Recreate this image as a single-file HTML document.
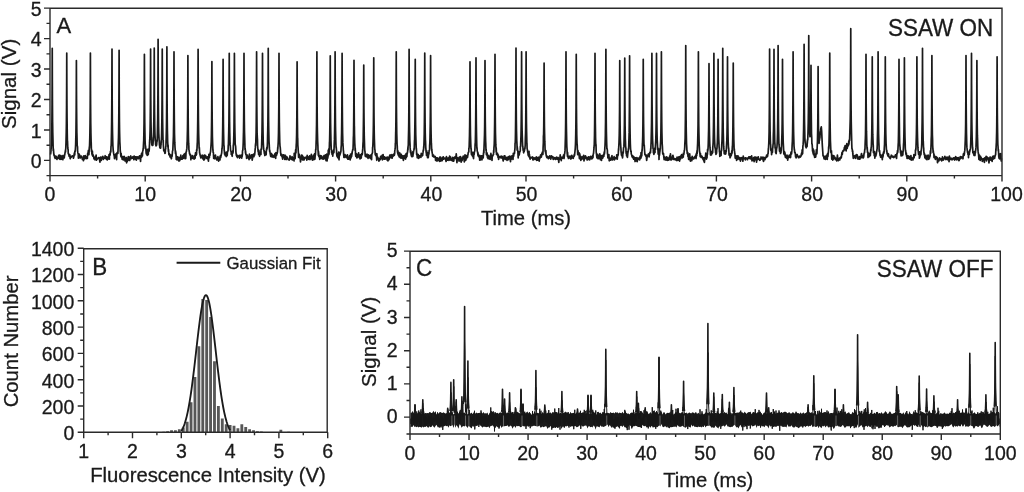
<!DOCTYPE html><html><head><meta charset="utf-8"><style>html,body{margin:0;padding:0;background:#fff;overflow:hidden}svg{display:block;filter:grayscale(100%)}text{font-family:"Liberation Sans",sans-serif;fill:#1a1a1a;stroke:#1a1a1a;stroke-width:0.3px}</style></head><body>
<svg width="1024" height="492" viewBox="0 0 1024 492">
<rect width="1024" height="492" fill="#fff"/>
<polyline fill="none" stroke="#1a1a1a" stroke-width="1.7" stroke-linejoin="round" points="50.6,154.49 50.75,152.94 50.95,151.28 51.05,149.07 51.25,147.84 51.3,146.44 51.5,143.72 51.65,137.82 51.75,132.24 51.9,121.9 52,110.1 52.05,103.36 52.15,82.05 52.25,48.35 52.35,81.7 52.45,103 52.6,121.89 52.7,127.43 52.75,131.95 53,141.35 53.05,143.9 53.25,150.61 53.4,148.81 53.45,149.65 53.75,153.32 54.1,155.51 54.25,155.09 54.45,155.61 54.75,157.54 54.8,157.36 55.15,158.48 55.25,157.08 55.5,157.47 55.85,156.14 56.2,158.22 56.55,156.73 56.9,159.48 57.25,158.42 57.6,158.32 57.95,157.37 58.3,158.08 58.65,155.37 59,156.63 59.35,158.79 59.7,155.17 60.05,159.46 60.4,155.67 60.75,159.26 61.1,156.88 61.45,159.17 61.8,158.16 62.15,155.64 62.5,159.55 62.85,159.67 63.2,157.28 63.55,156.71 63.75,156.69 63.9,155.34 64.25,157.82 64.6,154.71 64.75,154.99 64.95,153.23 65.25,151.96 65.3,150.74 65.55,152.02 65.65,149 65.75,149 66,142.62 66.25,132.3 66.35,126.37 66.4,122.2 66.55,104.95 66.65,85.06 66.7,71.1 66.75,53.1 66.85,84.94 66.95,105.71 67.05,117.34 67.1,121.8 67.25,133.19 67.4,140.9 67.5,140.87 67.75,147.41 67.95,149.38 68.1,149.2 68.25,153.65 68.45,153.67 68.75,154.91 68.8,153.88 69.15,156.4 69.25,155.14 69.5,156.05 69.75,154.92 69.85,154.84 70.2,158.77 70.55,156.26 70.9,157.51 71.25,157.09 71.6,156.51 71.95,156.39 72.3,155.79 72.65,156.5 73,156.55 73.35,156.55 73.4,158.18 73.7,157.15 73.9,156.44 74.05,154.83 74.4,152.87 74.75,154.9 74.9,150.99 75.1,151.23 75.2,151.25 75.4,149.15 75.45,148.43 75.65,144.41 75.8,138.29 75.9,135.83 76.05,123.98 76.15,115.6 76.2,108.8 76.3,90.49 76.4,60.6 76.5,90.66 76.6,108.03 76.75,123.7 76.85,132.5 76.9,133.55 77.15,143.41 77.2,145.59 77.4,146.17 77.55,147.34 77.6,150.95 77.9,152.94 78.25,154.12 78.4,158.1 78.6,154.22 78.9,153.85 78.95,155.86 79.3,155.15 79.4,154.27 79.65,157.6 80,157.02 80.35,157.87 80.7,155.99 81.05,156.57 81.4,156.16 81.75,156.39 82.1,158.01 82.45,159.46 82.8,158.31 83.15,158.31 83.5,160.76 83.85,155.81 84.2,159.11 84.55,157.67 84.9,157.75 85.25,155.62 85.6,157 85.95,158.66 86.3,157.35 86.65,157.44 87,156.7 87.35,158.51 87.4,156.76 87.7,153.27 87.9,155.15 88.05,153.04 88.4,150.37 88.75,152.87 88.9,154.6 89.1,151.34 89.2,148.77 89.4,146.57 89.45,148.32 89.65,142.75 89.8,137.62 89.9,132.86 90.05,122.62 90.15,112.47 90.2,105.2 90.3,85.21 90.4,53.1 90.5,85.28 90.6,104.6 90.75,123.37 90.85,128.89 90.9,132.76 91.15,142.53 91.2,142.29 91.4,149.86 91.55,151.61 91.6,149.65 91.9,153.76 92.25,154.93 92.4,151.18 92.6,155.8 92.9,155.95 92.95,156.24 93.3,155.03 93.4,156.3 93.65,156.65 94,158.87 94.35,157.81 94.7,157.45 95.05,159.78 95.4,156.84 95.75,157.14 96.1,155.12 96.45,160.07 96.8,159.22 97.15,159.18 97.5,158.84 97.85,158.04 98.2,158.2 98.55,157.53 98.9,157.6 99.25,157.97 99.6,160.08 99.95,162.18 100.3,157.82 100.65,157.09 101,157.03 101.35,160.3 101.7,158.73 102.05,158.11 102.4,157.52 102.75,156.43 103.1,157.95 103.45,159.32 103.8,157.49 104.15,157.73 104.5,157.73 104.85,158.21 105.2,155.73 105.55,157.68 105.9,156.75 106.25,159.24 106.6,156.8 106.95,158.69 107.3,159.99 107.65,157.22 108,159.13 108.35,157.65 108.7,157.14 109,155.43 109.05,154.57 109.4,159.26 109.5,155.82 109.75,155.4 110,153.52 110.1,155.12 110.45,151.29 110.5,151.18 110.8,151.85 111,146.37 111.15,145.93 111.25,143.84 111.5,132.33 111.65,121.76 111.8,103.93 111.85,93.81 111.9,82.27 112,49.1 112.1,82.44 112.2,103.7 112.35,122.05 112.5,131.2 112.55,133.84 112.75,141.53 112.9,146.02 113,147.21 113.2,150.39 113.25,151.02 113.5,152.22 113.6,153.17 113.95,155.01 114,154.75 114.3,156.34 114.5,158.67 114.65,157.03 115,156.6 115.35,154.25 115.7,157.29 116.05,153.81 116.1,154.56 116.4,157.61 116.6,159.68 116.75,155.69 117.1,152.69 117.45,153.28 117.6,152.03 117.8,152.33 117.9,153.49 118.1,148.18 118.15,146.11 118.35,141.29 118.5,137.43 118.6,132.53 118.75,121.22 118.85,111.22 118.9,103.3 119,83.73 119.1,50.35 119.2,83.76 119.3,103.69 119.45,122.55 119.55,129.73 119.6,132.5 119.85,142.47 119.9,142.69 120.1,146.42 120.25,151.37 120.3,150.65 120.6,153.77 120.95,156.69 121.1,153.35 121.3,155.28 121.6,157.32 121.65,157.72 122,157.13 122.1,159.29 122.35,158.37 122.7,156.6 123.05,157.23 123.4,159.93 123.75,159.59 124.1,156.27 124.45,157.73 124.8,159.97 125.15,161.06 125.5,158.57 125.85,158.7 126.2,157.49 126.55,162.79 126.9,161.22 127.25,161.39 127.6,158.13 127.95,159.28 128.3,156.6 128.65,158.44 129,160.39 129.35,157.12 129.7,160.46 130.05,159.36 130.4,157.32 130.75,155.96 131.1,158.1 131.45,158.65 131.8,157.91 132.15,157.45 132.5,158.16 132.85,157.07 133.2,156.65 133.55,158.4 133.9,159.7 134.25,156.16 134.6,158.33 134.95,157.33 135.3,156.8 135.65,159.4 136,157.35 136.35,160.24 136.7,156.91 137.05,158.56 137.4,157.63 137.75,156.82 138.1,158.71 138.45,157.57 138.8,158.59 139.15,157.56 139.5,155.95 139.85,157.25 140.2,157.33 140.55,161.49 140.9,155.51 141.25,156.45 141.4,153.86 141.6,157.04 141.9,154.06 141.95,152.92 142.3,154.62 142.4,155.98 142.65,151.31 142.9,150.63 143,150.43 143.2,148.17 143.35,148.33 143.4,146.1 143.65,141.17 143.7,141.18 143.9,131.79 144.05,122.67 144.2,104.59 144.3,85.38 144.4,54.35 144.5,86.11 144.6,104.75 144.75,122.26 144.9,132.07 145.1,142.22 145.15,141.46 145.4,148.73 145.45,145.71 145.6,146.67 145.8,148.95 145.9,149.09 146.15,153.09 146.4,153.91 146.5,151.57 146.85,151.37 146.9,152.9 147.2,155.51 147.4,149.39 147.55,154.16 147.6,151.81 147.9,154.56 148.1,151.21 148.25,154.64 148.6,149.43 148.95,148.74 149.1,151.13 149.3,148.75 149.4,146.12 149.6,142.9 149.65,140.81 149.85,138.25 150,133.59 150.1,130.26 150.25,118.46 150.35,107.28 150.4,100.81 150.5,81.07 150.6,49.1 150.7,81.7 150.8,100.38 150.95,117.26 151.05,125.02 151.1,127.33 151.25,133.41 151.35,139.19 151.4,137.11 151.6,142.59 151.75,143.38 151.8,144.28 152.1,145.34 152.25,144.92 152.45,144.65 152.6,145.42 152.75,144.49 152.8,145.34 153.05,143.29 153.1,141.04 153.15,142.36 153.25,139.29 153.5,135.34 153.6,132.71 153.75,124.71 153.85,120.5 153.9,116.59 154.05,99.04 154.15,79.53 154.2,65.8 154.25,48.1 154.35,79.52 154.45,98.74 154.55,111.66 154.6,115.41 154.75,126.56 154.9,132.81 155,135.47 155.1,137.4 155.25,141.14 155.45,140.5 155.6,144.42 155.75,144.88 155.95,145.52 156.1,145.83 156.25,144.32 156.3,144.82 156.6,145.15 156.65,144.61 156.75,143.68 156.9,140.16 157,141.74 157.1,141.14 157.25,138.09 157.35,134.65 157.6,122.85 157.7,118.37 157.75,113.25 157.9,93.38 158,73.62 158.05,58.38 158.1,39.35 158.2,73.42 158.3,95.33 158.4,108.23 158.45,113.79 158.6,126.22 158.75,133.28 158.85,134.79 159.1,140.08 159.25,140.82 159.3,142.11 159.45,144.99 159.6,145.98 159.75,146.33 159.8,147.77 160.1,146 160.15,147.07 160.25,148.24 160.5,147.81 160.6,148.26 160.75,146.79 160.85,145.33 161.05,144.81 161.1,142.56 161.2,140.66 161.25,142.81 161.5,137.19 161.55,136.2 161.75,127.34 161.9,117.55 162.05,100.13 162.15,80.63 162.25,49.1 162.35,80.9 162.45,101.12 162.6,118.58 162.75,128.06 162.95,136.81 163,139.14 163.25,140.02 163.3,144.06 163.45,146.75 163.65,148.71 163.75,150.78 163.9,150.81 164,150.07 164.25,150.8 164.35,151.68 164.4,149.86 164.7,150.76 164.75,152.1 164.9,153.47 165.05,150.21 165.25,153.16 165.4,149.48 165.7,148.81 165.75,146.48 165.9,146.43 166.1,139.61 166.15,139.23 166.4,129.42 166.45,127.29 166.55,119.73 166.7,99.97 166.8,79.92 166.9,46.85 167,80.11 167.1,100.21 167.15,108.93 167.25,119.77 167.4,130.68 167.5,134.64 167.65,141.54 167.85,144.71 167.9,147.25 168.1,145.2 168.2,148.49 168.4,151.52 168.55,149.59 168.9,154.61 169.25,154.96 169.4,153.55 169.6,155.3 169.9,155.03 169.95,156.91 170.3,154.88 170.65,155.24 171,157.56 171.35,158.8 171.5,158.28 171.7,155.2 172,154.75 172.05,156.48 172.4,152.74 172.5,151.01 172.75,150.61 172.8,150.55 173,146.37 173.1,143.69 173.25,140.61 173.45,135.67 173.5,131.81 173.65,121.99 173.8,104.36 173.9,84.43 174,51.85 174.1,84.42 174.15,95.1 174.2,104.14 174.35,121.44 174.5,133.68 174.75,142.41 174.85,144.03 175,147.25 175.2,150.01 175.5,153.76 175.55,150.9 175.9,153.26 176,154.53 176.25,159.38 176.5,157.63 176.6,156.26 176.95,159.45 177,159.92 177.3,156.88 177.65,156.93 178,159.4 178.35,158.5 178.7,160.86 179.05,157.24 179.4,160.83 179.75,160.57 180.1,158.94 180.45,159.14 180.8,155.21 181.15,159.08 181.5,157.86 181.85,158.75 182.2,159.08 182.55,157.55 182.9,155.54 183.25,158.44 183.6,156.73 183.95,154.28 184.3,156.6 184.65,156.72 184.9,153.64 185,158.63 185.35,156.76 185.4,157.91 185.7,158.54 185.9,155.2 186.05,152.11 186.4,151.74 186.7,148.97 186.75,149.37 186.9,148.15 187.1,141.92 187.15,143.37 187.4,132.16 187.45,130.96 187.55,123.38 187.7,106.07 187.8,86.88 187.9,55.6 188,86.72 188.1,105.38 188.15,113.07 188.25,124.76 188.4,135.28 188.5,139.35 188.65,143.67 188.85,146.27 188.9,149.71 189.1,150.31 189.2,151.22 189.4,152.34 189.55,153.68 189.9,154.24 190.25,155.55 190.4,154.36 190.6,155.66 190.9,159.81 190.95,156.45 191.3,156.45 191.65,157.72 192,158.08 192.35,155.49 192.7,156.83 193.05,158.45 193.4,157.46 193.75,157.17 194.1,159.12 194.45,155.72 194.8,156.59 195.1,155.44 195.15,158.3 195.5,152.86 195.6,154.55 195.85,154.25 196.1,155.28 196.2,154.86 196.55,154.33 196.6,149.92 196.9,150.58 197.1,146.6 197.25,143.35 197.35,142.25 197.6,130.85 197.75,119.54 197.9,102.67 197.95,93.23 198,82.26 198.1,49.35 198.2,82.53 198.3,103.63 198.45,120.96 198.6,130.36 198.65,133.62 198.85,140.71 199,143.84 199.1,147.65 199.3,148.91 199.35,147.65 199.6,153.27 199.7,152.76 200.05,154.96 200.1,154.77 200.4,156.34 200.6,155.89 200.75,157.87 201.1,157.16 201.45,157.45 201.8,157.72 202.15,155.21 202.5,157.23 202.85,158.86 203.2,157.99 203.55,155.8 203.9,160.2 204.25,155.19 204.6,159.1 204.95,155.47 205.3,157.55 205.65,155.66 206,156.93 206.35,158.09 206.7,157 207.05,158.68 207.4,156.77 207.75,157.68 208.1,159.03 208.45,161.16 208.8,155.74 208.9,154.42 209.15,155.64 209.4,157.65 209.5,154.71 209.85,154.93 209.9,155.44 210.2,153.08 210.4,152.14 210.55,151.84 210.7,149.94 210.9,147.05 211.15,143.63 211.25,141.39 211.4,135.03 211.55,124.39 211.6,120.96 211.7,109.79 211.8,91.31 211.9,61.6 211.95,78.12 212,91.33 212.1,109.14 212.25,124.85 212.3,128.77 212.4,136.55 212.65,144.38 212.9,150.37 213,149.59 213.1,152.51 213.35,152.41 213.4,153.32 213.7,158.44 213.9,156.68 214.05,155.26 214.4,156.53 214.75,157.58 214.9,159.01 215.1,156.72 215.45,155.14 215.8,157.42 216.15,157.97 216.5,158.2 216.85,160.01 217.2,158.59 217.55,159.33 217.9,156.54 218.25,159.37 218.6,161.09 218.95,159.09 219.3,158.21 219.65,157.89 220,160.01 220.1,155.98 220.35,156.85 220.6,157.29 220.7,157.52 221.05,155 221.1,155.91 221.4,153.97 221.6,153.48 221.75,152.1 221.9,149.45 222.1,148.49 222.35,144.59 222.45,142.15 222.6,134.25 222.75,125.23 222.8,119.53 222.9,108.2 223,89.22 223.1,59.35 223.15,76.61 223.2,89.98 223.3,107.91 223.45,125.11 223.5,128.43 223.6,134.32 223.85,144.96 224.1,146.35 224.2,150.65 224.3,150.27 224.55,154.16 224.6,152.77 224.9,152.85 225.1,154.75 225.25,155.72 225.6,155.17 225.95,156 226.1,154.55 226.25,152.18 226.3,156.55 226.65,156 226.75,155.08 227,154.56 227.25,155.34 227.35,152.91 227.7,151.06 227.75,151.48 228.05,150.9 228.25,145.07 228.4,145.5 228.5,140.96 228.75,131.13 228.9,122.86 229.05,104.46 229.1,94.86 229.15,84.89 229.25,53.35 229.35,85.25 229.45,104.21 229.6,122.08 229.75,132.57 229.8,133.74 230,141.75 230.15,144.65 230.25,145.68 230.45,148.13 230.5,149.33 230.75,151.06 230.85,150.73 231.2,152.09 231.25,154.39 231.4,153.37 231.55,154.5 231.75,155.06 231.9,154.17 232.25,156.28 232.4,151.59 232.6,153.39 232.9,150.54 232.95,153.23 233.2,150.98 233.3,145.13 233.4,145.1 233.65,142.06 233.9,132.61 234,126.29 234.05,121.71 234.2,104.62 234.3,85.1 234.35,71.11 234.4,53.35 234.5,84.38 234.6,104.8 234.7,116.53 234.75,122.64 234.9,131.93 235.05,137.68 235.15,143.79 235.4,145.7 235.6,146.02 235.75,148.65 235.9,151.81 236.1,153.63 236.4,155.53 236.45,154.02 236.8,156.56 236.9,155.26 237.15,155.48 237.4,156.74 237.5,157.54 237.85,155.79 238.2,156.12 238.55,156.38 238.9,156.81 239.25,155.43 239.6,158.23 239.95,156.11 240.3,157.27 240.65,155.25 241,156.72 241.35,156.39 241.5,155.01 241.7,158.16 242,155.06 242.05,156.9 242.4,154.28 242.5,151.47 242.75,149.96 242.8,150.55 243,147.53 243.1,145.8 243.25,142 243.45,133.47 243.5,132.53 243.65,120.86 243.8,105.1 243.9,85.05 244,53.35 244.1,85.19 244.15,96.31 244.2,104.24 244.35,121.21 244.5,131.77 244.75,140.04 244.85,143.6 245,149.46 245.2,148.61 245.5,153.31 245.55,150.81 245.9,154.68 246,154.12 246.25,155.13 246.5,156.5 246.6,158.36 246.95,156.52 247,156.47 247.3,155.11 247.65,157.57 248,156.5 248.35,158.16 248.7,156.95 249.05,159.58 249.4,154.19 249.75,156.64 250.1,158.33 250.45,156.51 250.8,155.82 251.15,156.52 251.5,154.83 251.85,156.9 252.2,160.14 252.55,158.1 252.9,154.64 253.25,154.72 253.6,155.06 253.95,156.63 254.1,153.74 254.3,153.53 254.6,154.98 254.65,154.78 255,151.51 255.1,149.9 255.35,147.4 255.4,146.13 255.6,143.57 255.7,145.53 255.85,140.45 256.05,134.46 256.1,133.21 256.25,122.05 256.4,103.02 256.5,84.06 256.6,51.85 256.7,83.61 256.75,94.43 256.8,103.47 256.95,119.95 257.1,132.73 257.35,138.26 257.45,139.33 257.6,145.74 257.8,148.28 258.1,151.17 258.15,151.6 258.5,152.37 258.6,154.57 258.85,150.42 259.1,153.81 259.2,152.87 259.5,154.22 259.55,156.33 259.6,152.71 259.9,152.99 260,154.97 260.25,154 260.5,152.01 260.6,153.17 260.95,154.47 261,148.98 261.3,149.06 261.5,149.34 261.65,144.45 261.75,141.4 262,131.51 262.15,121.19 262.3,104.15 262.35,95.44 262.4,85.02 262.5,53.35 262.6,84.72 262.7,103.68 262.85,121.56 263,130.9 263.05,133.99 263.25,142.35 263.4,144.99 263.5,146.86 263.7,149.18 263.75,149.27 264,150.86 264.1,151.15 264.45,153.97 264.5,151.48 264.8,155.54 265,151.85 265.15,152.88 265.25,153.3 265.5,153.03 265.75,154.09 265.85,152.73 266.2,154.78 266.25,151.92 266.55,148.83 266.75,149.98 266.9,147.23 267.05,148.52 267.25,147.32 267.5,141.45 267.6,136.12 267.75,130.1 267.9,121.46 267.95,115.42 268.05,101.93 268.15,81.77 268.25,48.35 268.3,67.19 268.35,81.55 268.45,102.15 268.6,120.7 268.65,123.92 268.75,129.97 269,141 269.25,145.12 269.35,147.68 269.45,149.09 269.7,151.7 269.75,150.33 270.05,152.9 270.25,153.57 270.4,154.86 270.75,156.5 271.1,154.79 271.25,154.47 271.45,153.47 271.8,154.75 272.15,157.05 272.5,156.46 272.85,155.01 273.2,155.99 273.55,156.6 273.9,157.28 274.25,155.65 274.6,156.09 274.95,153.71 275.3,154.54 275.65,158.34 276,152.55 276.35,154.82 276.5,155.39 276.7,154.17 277,152.81 277.05,153.71 277.4,152.34 277.5,151.66 277.75,147.36 277.8,149.17 278,145.76 278.1,144.46 278.25,141.98 278.45,135.28 278.5,133.01 278.65,121.64 278.8,105.85 278.9,85.32 279,53.35 279.1,85.38 279.15,95.84 279.2,104.47 279.35,122.6 279.5,130.94 279.75,141.96 279.85,143.49 280,146.37 280.2,147.09 280.5,150.61 280.55,152.11 280.9,155.01 281,155.49 281.25,154.65 281.5,155 281.6,154.25 281.95,156.51 282,155.63 282.3,157.16 282.65,159.1 283,156.72 283.35,154.77 283.7,155.84 284.05,155.1 284.4,155.58 284.75,159.3 285.1,157.82 285.45,155.36 285.8,158.57 286.15,159.51 286.5,157.22 286.85,156.81 287.2,157.35 287.55,158.29 287.9,158.85 288.25,159.67 288.6,159.74 288.95,159.73 289.3,160.01 289.65,159.02 290,155.86 290.35,157.9 290.7,158.55 291.05,157.54 291.4,159.41 291.75,157.55 292.1,156.68 292.45,160.02 292.8,158.77 293.15,157.97 293.5,158.8 293.85,158.75 294.1,160.97 294.2,153.33 294.55,155.46 294.6,155.7 294.9,154.37 295.1,158.75 295.25,156.48 295.6,150.01 295.9,149.46 295.95,153.09 296.1,148.03 296.3,143.59 296.35,144.11 296.6,135.38 296.65,131.72 296.75,126.1 296.9,109.11 297,90.98 297.1,61.85 297.2,91.41 297.3,109.02 297.35,117.35 297.45,125.42 297.6,137.52 297.7,138.47 297.85,145.31 298.05,147.67 298.1,148.32 298.3,151.76 298.4,152.89 298.6,157.41 298.75,154.26 299.1,154.18 299.45,155.05 299.6,156.8 299.8,157.17 300.1,158.66 300.15,157.29 300.5,161.85 300.85,159.31 301.2,157.48 301.55,155.19 301.9,155.7 302.25,155.38 302.6,159.82 302.95,156.31 303.3,159.34 303.65,158.42 304,160.06 304.35,159.08 304.7,157.53 305.05,157.43 305.4,157.89 305.75,158.06 306.1,157.07 306.45,157.83 306.8,160.24 307.15,155.47 307.5,158.34 307.85,156.67 308.2,158.28 308.55,159.25 308.9,157.96 309.25,159.18 309.6,155.76 309.95,159.68 310.3,157.2 310.65,158.97 311,158.32 311.35,154.28 311.7,156.89 312.05,158.26 312.4,160.12 312.75,158.19 313.1,158.01 313.45,155.4 313.8,159.26 313.9,159.71 314.15,156.87 314.4,156.15 314.5,153.96 314.85,156.74 314.9,159.18 315.2,155.21 315.4,154.86 315.55,152.78 315.7,149.36 315.9,149.74 316.15,141.42 316.25,139.43 316.4,132.09 316.55,124.06 316.6,117.9 316.7,104.74 316.8,84.59 316.9,51.85 316.95,70.2 317,84.25 317.1,103.92 317.25,121.56 317.3,126.18 317.4,131.27 317.65,141.26 317.9,145.98 318,149.69 318.1,151.17 318.35,155.53 318.4,151.05 318.7,153.68 318.9,156.65 319.05,155.46 319.4,156.03 319.75,159.47 319.9,156.67 320.1,155.67 320.45,155.68 320.8,158.26 321.15,156.41 321.5,156.02 321.85,156.65 322.2,158.91 322.55,159 322.9,157.25 323.25,159.1 323.6,159.02 323.95,155.59 324.3,157.69 324.65,158.71 325,157.22 325.35,154.87 325.7,157.47 326.05,160.54 326.4,159.89 326.75,154.21 327.1,160.89 327.25,155.33 327.45,158.11 327.75,158.06 327.8,157.61 328.15,155.62 328.25,150.2 328.5,155.09 328.75,151.92 328.85,148.79 329.05,154.22 329.2,149.59 329.25,150.25 329.5,141.87 329.55,143.08 329.75,133.65 329.9,124.55 330.05,106.23 330.15,86.69 330.25,55.85 330.35,86.37 330.45,105.31 330.6,123.28 330.75,132.27 330.95,140.87 331,142.32 331.25,149.76 331.3,149.68 331.45,149.65 331.65,152.94 331.75,150.8 332,152.45 332.1,154.49 332.25,151.76 332.35,153.28 332.6,151.96 332.7,154.02 332.75,156.19 333.05,152.45 333.1,153.75 333.25,151.8 333.4,150.95 333.6,149.92 333.75,152.61 333.9,152.45 334.1,147.45 334.35,140.92 334.45,139.38 334.6,131.78 334.75,122.32 334.8,117.11 334.9,104.13 335,84.26 335.1,51.85 335.15,69.96 335.2,83.68 335.3,103.84 335.45,120.8 335.5,125.77 335.6,131.36 335.85,142.08 336.1,147.74 336.2,146.76 336.3,148.67 336.55,150.57 336.6,153.22 336.9,156.09 337.1,155.57 337.25,154.26 337.6,157.52 337.95,153.61 338.1,158.08 338.3,155.06 338.65,152.04 339,159.83 339.1,158.23 339.35,154.27 339.6,155.73 339.7,155.03 340.05,154.76 340.1,152.36 340.4,152.42 340.6,152.96 340.75,151.56 340.9,151.47 341.1,147.46 341.35,144.86 341.45,138.38 341.6,132.86 341.75,120.98 341.8,116.79 341.9,105.47 342,84.94 342.1,53.35 342.15,71.25 342.2,84.9 342.3,104.65 342.45,121.97 342.5,125.94 342.6,133.27 342.85,142.88 343.1,146.54 343.2,147.49 343.3,150.17 343.55,151.74 343.6,153.61 343.9,157.41 344.1,155.54 344.25,154.69 344.6,157.41 344.95,154.64 345.1,154.71 345.3,154.73 345.65,155.81 346,155.91 346.35,157.7 346.7,156.09 347.05,156.41 347.4,154.94 347.75,159.07 348.1,157.39 348.45,159.2 348.8,157.69 349.15,158.61 349.5,155.98 349.85,157.24 350.2,159.94 350.55,154.03 350.9,157.21 351,157.86 351.25,155.72 351.5,155.85 351.6,156.41 351.95,152.82 352,154.22 352.3,151.38 352.5,150.71 352.65,149.84 352.8,149.26 353,149.73 353.25,142.92 353.35,138.03 353.5,135.43 353.65,124.98 353.7,120.2 353.8,107.74 353.9,89.75 354,60.35 354.05,76.98 354.1,89.34 354.2,108.33 354.35,126.37 354.4,126.37 354.5,134.61 354.75,142.99 355,147.2 355.1,150.45 355.2,148.11 355.45,151.9 355.5,154.05 355.8,156.41 356,153.44 356.15,154.62 356.5,154.48 356.85,157.91 357,154.43 357.2,157.25 357.55,156.74 357.9,157.38 358.25,156.35 358.6,152.75 358.95,156.64 359.3,155.08 359.65,155.99 360,158.88 360.35,154.81 360.7,154.71 360.75,158.4 361.05,156.17 361.25,158.04 361.4,156.02 361.75,153.54 362.1,153.57 362.25,154.68 362.45,152.96 362.55,150.82 362.75,148.65 362.8,147.73 363,143.37 363.15,141.66 363.25,135.54 363.4,125.58 363.5,116.8 363.55,111.19 363.65,93.52 363.75,65 363.85,93.19 363.95,110.89 364.1,125.25 364.2,131.91 364.25,136.39 364.5,143.62 364.55,145.76 364.75,150.33 364.9,151.41 364.95,151.06 365.25,156.21 365.6,155.68 365.75,154.64 365.95,156.71 366.25,156.77 366.3,154.97 366.65,156.76 366.75,156.5 367,154.01 367.35,156.88 367.7,156.85 368.05,158.33 368.4,154.97 368.75,156.92 369.1,157.38 369.45,157.55 369.8,155.62 370.15,158.13 370.5,155.18 370.75,156.47 370.85,158.65 371.2,155.27 371.25,155.46 371.55,159.62 371.75,154.6 371.9,154.25 372.25,153.39 372.55,152.18 372.6,147.28 372.75,147.26 372.95,143.42 373,142.13 373.25,133.37 373.3,130.66 373.4,124.53 373.55,106.99 373.65,88.54 373.75,57.85 373.85,88.32 373.95,107.51 374,115.18 374.1,124.59 374.25,133.63 374.35,138.62 374.5,142.42 374.7,148 374.75,149.55 374.95,149.79 375.05,151.53 375.25,154.82 375.4,153.35 375.75,155.67 376.1,154.74 376.25,155.31 376.45,156.06 376.75,160.31 376.8,153.59 377.15,156.74 377.5,156.9 377.85,157.65 378.2,158.97 378.55,158.4 378.9,161.19 379.25,158.59 379.6,160.44 379.95,158.79 380.3,159.31 380.65,156.37 381,158.31 381.35,158.43 381.7,158.2 382.05,155.45 382.4,159.86 382.75,158.04 383.1,154.53 383.45,158.26 383.8,158.3 384.15,159.23 384.5,156.81 384.85,157.3 385.2,159.08 385.55,158.87 385.9,158.11 386.25,157.82 386.6,157.44 386.95,158.56 387.3,160.35 387.65,157.1 388,160.83 388.35,159.79 388.7,157.86 389.05,159.59 389.4,156.27 389.75,155.81 390.1,154.87 390.45,157.57 390.8,157.6 391.15,157.22 391.5,157.99 391.85,154.6 392.2,158.25 392.55,155.26 392.9,156.09 393.25,156.1 393.6,154.56 393.75,154 393.95,154.13 394.25,154.75 394.3,155.44 394.65,153.86 394.75,151.11 395,149.43 395.05,148.76 395.25,147.94 395.35,143.15 395.5,143.52 395.7,132.35 395.75,131.65 395.9,122.2 396.05,104.63 396.15,84.27 396.25,51.85 396.35,84.19 396.4,95.72 396.45,104.68 396.6,121.8 396.75,133.57 397,142.14 397.1,144.5 397.25,145.99 397.45,151.8 397.75,153.21 397.8,150.62 398.15,154.91 398.25,154.81 398.5,155.34 398.75,152.23 398.85,155.41 399.2,156.9 399.25,154.91 399.55,156.37 399.9,152.99 400.25,157.58 400.6,155.79 400.95,158.13 401.3,154.28 401.65,158.02 402,156.72 402.35,158.27 402.7,155.78 403.05,156.23 403.4,160.37 403.75,155.89 404.1,156.03 404.45,156.59 404.8,155.42 405.15,158.51 405.5,159.11 405.85,155.36 406.1,153.65 406.2,157.74 406.55,155.31 406.6,156.67 406.9,156.53 407.1,153.08 407.25,153.56 407.6,151.57 407.9,147.65 407.95,150.23 408.1,146.04 408.3,145.51 408.35,141.63 408.6,131.01 408.65,129.29 408.75,122.28 408.9,103 409,82.06 409.1,49.35 409.2,82.73 409.3,102.51 409.35,109.59 409.45,121.66 409.6,131.67 409.7,135.22 409.85,141.03 410.05,144.99 410.1,147.13 410.3,149.51 410.4,151.88 410.6,152.81 410.75,150.48 411.1,154.56 411.45,156.04 411.6,155.62 411.8,156.66 412.1,154.53 412.15,153.96 412.25,156.68 412.5,153.72 412.75,151.96 412.85,156.43 413.2,153.31 413.25,153.79 413.55,151.3 413.75,150.47 413.9,149.77 414.05,149.6 414.25,148.19 414.5,140.33 414.6,140.82 414.75,132.84 414.9,123.52 414.95,120.26 415.05,107.77 415.15,88.91 415.25,59.35 415.3,76.1 415.35,89.39 415.45,107.92 415.6,125.37 415.65,127.73 415.75,134.92 416,142.19 416.25,149.27 416.35,148.2 416.45,149.78 416.7,154.84 416.75,152.98 417.05,154.1 417.25,157.79 417.4,155.5 417.75,154.47 418.1,157.14 418.25,154.51 418.45,158 418.8,158.31 419.15,155.86 419.5,155.85 419.85,157.04 420.2,156.79 420.55,155.29 420.9,157.42 421.25,153.47 421.6,155.56 421.75,155.46 421.95,155.44 422.25,155.85 422.3,153.55 422.65,155.39 422.75,154.01 423,152.44 423.25,150.17 423.35,149.76 423.55,150.09 423.7,146.57 423.75,148.58 424,143.1 424.05,141.59 424.25,133.75 424.4,121.86 424.55,104.03 424.65,85.18 424.75,53.1 424.85,85.19 424.95,104.51 425.1,122.88 425.25,133 425.45,141.11 425.5,140.51 425.75,147.35 425.8,147.87 425.95,149.64 426.15,152.39 426.25,150.98 426.5,155.34 426.75,150.76 426.85,155.35 427.2,154.38 427.25,154.2 427.55,157.69 427.6,154.32 427.75,152.93 427.9,153.7 428.1,154.15 428.25,157.54 428.6,154.1 428.95,153.94 429.1,150.5 429.3,150.98 429.4,150.5 429.6,149.45 429.65,145.55 429.85,142.91 430,137.73 430.1,131.99 430.25,122.93 430.35,112.55 430.4,104.74 430.5,86.84 430.6,55.6 430.7,86.6 430.8,105.28 430.95,124.15 431.05,130.51 431.1,134.03 431.35,144.08 431.4,143.15 431.6,148.57 431.75,149.2 431.8,149.97 432.1,152.34 432.45,154.14 432.6,156.24 432.8,155.37 433.1,155.59 433.15,155.49 433.5,156.87 433.6,155.19 433.85,156 434.2,156.91 434.55,156.36 434.9,157.17 435.25,156.58 435.6,160.48 435.95,159.59 436.3,158.41 436.65,157.78 437,161.12 437.35,158.5 437.7,157.98 438.05,158.61 438.4,158.68 438.75,160.35 439.1,158.34 439.45,161.47 439.8,157.2 440.15,159.54 440.5,157.13 440.85,161.27 441.2,158.21 441.55,158.65 441.9,160.12 442.25,160.65 442.6,157.26 442.95,158.42 443.3,156.95 443.65,159.21 444,158.91 444.35,158.59 444.7,158.15 445.05,158.63 445.4,158.15 445.75,160.04 446.1,161.51 446.45,156.55 446.8,159.22 447.15,158.83 447.5,160.19 447.85,158.13 448.2,159.3 448.55,157.97 448.9,160.45 449.25,159.54 449.6,156.07 449.95,159.86 450.3,158.93 450.65,157 451,160.07 451.35,159.59 451.7,158.91 452.05,160.52 452.4,160.82 452.75,157.43 453.1,157.84 453.45,161.18 453.8,160.95 454.15,157.78 454.5,157.1 454.85,157.85 455.2,158.01 455.55,156.39 455.9,158.69 456.25,153.75 456.6,158.91 456.95,162.63 457.3,157.48 457.65,158.33 458,159.3 458.35,159.52 458.7,157.8 459.05,161.06 459.4,157 459.75,160.68 460.1,159.06 460.45,156.52 460.8,158.12 461.15,162.16 461.5,158.81 461.85,160.76 462.2,160.09 462.55,157.31 462.9,157.95 463.25,156.2 463.6,158.39 463.95,158.22 464.3,161.88 464.65,158.05 465,154.81 465.35,156.8 465.7,160.43 466.05,155.72 466.4,158.94 466.75,156.62 467,157.43 467.1,156.6 467.45,155.12 467.5,157.46 467.8,154.99 468,154.55 468.15,152.84 468.5,152.13 468.8,151.82 468.85,148.35 469,148.52 469.2,145.87 469.25,143.43 469.5,135.22 469.55,131.37 469.65,126.49 469.8,109.88 469.9,91.28 470,61.85 470.1,90.93 470.2,109.78 470.25,116.76 470.35,125.68 470.5,136.04 470.6,138.54 470.75,143.49 470.95,147.66 471,148.93 471.2,148.69 471.3,152.82 471.5,154.69 471.65,151.99 472,152.8 472.35,155.87 472.5,154.6 472.7,152.27 473,156.94 473.05,155.99 473.4,154.93 473.5,158.58 473.75,155.41 474,153.63 474.1,154.57 474.45,151.6 474.5,151.72 474.8,151.03 475,147.43 475.15,143.65 475.25,145.11 475.5,134.84 475.65,124.8 475.8,107.62 475.85,99.17 475.9,88.86 476,57.85 476.1,88.99 476.2,106.97 476.35,124.13 476.5,132.93 476.55,136.25 476.75,144.02 476.9,148.5 477,147.58 477.2,150.87 477.25,150.87 477.5,152.21 477.6,152.13 477.95,155.29 478,152.89 478.3,156.26 478.5,156.49 478.65,155.74 479,155.62 479.35,155.35 479.7,160.26 480.05,155.72 480.4,159.99 480.75,158.62 481.1,157.18 481.45,155.94 481.8,158.96 482,159.81 482.15,155.84 482.5,156.35 482.85,157.65 483,156.25 483.2,157.96 483.5,152.97 483.55,154.2 483.8,149.85 483.9,153.13 484,148.21 484.25,141.79 484.5,135.13 484.6,129.23 484.65,126.98 484.8,108.91 484.9,90.57 484.95,77.55 485,60.6 485.1,90.54 485.2,109.54 485.3,121.4 485.35,125.32 485.5,135.24 485.65,141.31 485.75,143.14 486,150.51 486.2,149.54 486.35,154.22 486.5,154.94 486.7,154.48 487,154.55 487.05,152.76 487.4,157.18 487.5,157.72 487.75,157.38 488,158.64 488.1,156.47 488.45,157.83 488.8,155.35 489.15,158.81 489.5,157.96 489.85,157.14 490.2,159.39 490.55,158.64 490.9,153.45 491.25,157.44 491.6,155.07 491.95,158.43 492,160.44 492.3,155.74 492.5,156.29 492.65,155.54 493,155.53 493.35,154.56 493.5,154.6 493.7,150.02 493.8,152.47 494,146.69 494.05,147.39 494.25,144.04 494.4,138.52 494.5,132.33 494.65,122.48 494.75,112.28 494.8,105.53 494.9,86.31 495,54.35 495.1,86.12 495.2,105.82 495.35,123.36 495.45,132.36 495.5,134.53 495.75,143.2 495.8,144.91 496,148.45 496.15,152.08 496.2,147.78 496.5,154.48 496.85,154.05 497,154.53 497.2,154.08 497.5,153.39 497.55,155.62 497.9,155.65 498,157.47 498.25,154.86 498.6,159.33 498.95,157.84 499.3,157.25 499.65,156.7 500,156.69 500.35,156.28 500.7,157.19 501.05,158.05 501.4,157.84 501.75,156.09 502.1,157.79 502.45,156.91 502.8,158.47 503.15,160.97 503.5,159.19 503.85,157.85 504.2,155.96 504.55,156.28 504.9,155.9 505.25,159.41 505.6,158.98 505.95,158.46 506.3,157.47 506.65,158.5 507,160.4 507.35,157.37 507.7,157.86 508.05,157.17 508.4,159.58 508.75,156.8 509.1,156.61 509.45,156.2 509.8,156.11 510.15,158.78 510.5,161.75 510.85,156.49 511.2,159.2 511.55,158.04 511.9,155.91 512.25,156.89 512.6,156.67 512.95,155.65 513,159.38 513.3,153.41 513.5,156.35 513.65,155.95 514,153.66 514.35,153.17 514.5,153.25 514.7,150.64 514.8,149.96 515,147.56 515.05,143.31 515.25,142.89 515.4,138.3 515.5,132.01 515.65,119.48 515.75,108.52 515.8,101.91 515.9,81.19 516,48.1 516.1,81.56 516.2,101.39 516.35,119.92 516.45,126.02 516.5,130.5 516.75,140.62 516.8,141.01 517,144.83 517.15,150.19 517.2,146.67 517.5,149.14 517.85,150.93 518,154.18 518.2,157.87 518.5,153.61 518.55,152.12 518.6,152.55 518.9,154.67 519,151.76 519.1,155.08 519.25,154.85 519.6,152.21 519.95,151.76 520.1,151.1 520.3,150.72 520.4,146.31 520.6,146.67 520.65,143.93 520.85,139.24 521,135.29 521.1,130.39 521.25,119.69 521.35,109.06 521.4,102.54 521.5,83.86 521.6,51.85 521.7,83.63 521.8,103.53 521.95,119.98 522.05,127.59 522.1,130.76 522.35,138.75 522.4,140.08 522.6,145.12 522.75,146.5 522.8,146.03 523.1,150.2 523.45,150.66 523.6,152.81 523.8,151.57 524.1,151.08 524.15,151.63 524.5,150.32 524.6,149.19 524.85,147.95 524.9,149.03 525.1,146.5 525.2,145.61 525.35,138.84 525.55,133.38 525.6,130.92 525.75,121.22 525.9,103.33 526,83.7 526.1,51.85 526.2,84.01 526.25,94.57 526.3,104.44 526.45,122.27 526.6,131.41 526.85,142.65 526.95,143.31 527.1,148.41 527.3,149.36 527.6,151.1 527.65,152.01 528,153.14 528.1,154.86 528.35,155.57 528.6,155.93 528.7,155.26 529.05,151.3 529.1,156.79 529.4,154.24 529.75,157.64 530.1,159.15 530.45,158.1 530.8,157.28 531.15,157.71 531.5,157.87 531.85,157.35 532.2,157.35 532.55,156.89 532.9,159.97 533.25,158.24 533.6,159.66 533.95,157.91 534.3,158.37 534.65,158.01 535,158.91 535.35,159.42 535.7,158.54 536.05,157.19 536.4,157.01 536.75,160.51 537.1,157.66 537.45,157.6 537.8,160.09 538.15,159.49 538.5,158.62 538.85,157.19 539.2,161.09 539.55,158.14 539.9,158.23 540.25,157.02 540.6,155.02 540.95,154.87 541.1,157.25 541.3,157.01 541.6,155.68 541.65,154.26 542,153.17 542.1,154.49 542.35,152.07 542.6,154.17 542.7,153.88 542.9,154.44 543.05,150.17 543.1,147.64 543.35,142.73 543.4,136.38 543.6,134.45 543.75,125.56 543.9,110.25 544,92.12 544.1,63.1 544.2,92.03 544.3,110.12 544.45,126.77 544.6,134.04 544.8,141.92 544.85,142.17 545.1,150.44 545.15,150.73 545.3,151.73 545.5,150.71 545.6,153.2 545.85,150.61 546.1,155.11 546.2,155 546.55,156.74 546.6,155.51 546.9,157.73 547.1,157.06 547.25,156.43 547.6,156.96 547.95,156.7 548.3,158.68 548.65,157.25 549,158.18 549.35,157.28 549.7,155.78 550.05,157.04 550.4,156.54 550.75,159.12 551.1,156.17 551.45,155.84 551.8,156.92 552.15,157.58 552.5,157.18 552.85,156.69 553.2,159.51 553.55,158.13 553.9,159.06 554.25,157.91 554.6,159 554.95,157.5 555.3,158.57 555.65,159.48 556,158.72 556.35,158.01 556.7,157.12 557.05,158.95 557.4,159.22 557.75,158.36 558.1,157.63 558.45,159.53 558.8,162.34 559.15,158.3 559.5,159.22 559.85,159.26 560.2,154.97 560.55,158.84 560.9,157.59 561.25,160.55 561.6,158.09 561.95,157.22 562.3,157.87 562.65,158.22 563,156.87 563.35,157.19 563.5,155.09 563.7,156.34 564,156.99 564.05,158.53 564.4,155.22 564.5,154.03 564.75,153.25 564.8,152.51 565,150.65 565.1,148.11 565.25,143.15 565.45,136.23 565.5,133.59 565.65,123.1 565.8,104.94 565.9,84.41 566,51.85 566.1,84.45 566.15,95.13 566.2,104.89 566.35,122.92 566.5,131.94 566.75,144.13 566.85,146.87 567,148.78 567.2,153.48 567.5,156.37 567.55,152.43 567.9,157.2 568,156.7 568.25,157.29 568.5,158.48 568.6,156.24 568.95,156.8 569,156.5 569.3,156.81 569.65,157.91 570,156.03 570.35,156.66 570.7,159.01 571.05,158.04 571.4,158.63 571.75,155.24 572.1,156.71 572.45,156.86 572.8,157.48 573.15,156.28 573.25,158.37 573.5,156.62 573.75,156.34 573.85,156.14 574.2,156.28 574.25,154.45 574.55,155.53 574.75,153.5 574.9,152.01 575.05,150.47 575.25,148.52 575.5,143.87 575.6,140.64 575.75,133.51 575.9,123.6 575.95,118.3 576.05,106.12 576.15,85.98 576.25,54.35 576.3,72.33 576.35,85.99 576.45,104.9 576.6,122.72 576.65,126.11 576.75,134.94 577,143.06 577.25,145.61 577.35,149.65 577.45,149.54 577.7,154.75 577.75,150.98 578.05,150.71 578.25,154.64 578.4,154.44 578.75,155 579.1,152.94 579.25,156.79 579.45,158.75 579.8,153.76 580.15,158.4 580.5,156.08 580.85,160.48 581.2,157.85 581.55,157.06 581.9,159.05 582.25,158.31 582.6,156.77 582.95,158.75 583.3,157.05 583.65,155.27 584,160.87 584.35,157.48 584.7,157.17 585.05,158.6 585.4,155.9 585.75,156.24 586.1,157.53 586.45,157.54 586.8,158.44 587.15,160 587.5,157.71 587.85,159.14 588.2,159.32 588.55,156.9 588.9,158.81 589.25,157.11 589.6,160.01 589.95,159.11 590.3,158.43 590.65,156.4 591,158.42 591.35,157.01 591.7,158.95 592,157.52 592.05,156.46 592.4,158.5 592.5,158.04 592.75,155.64 593,157.47 593.1,155.06 593.45,153.44 593.5,153.73 593.8,150.09 594,147.95 594.15,145.54 594.25,145.01 594.5,134.94 594.65,123 594.8,106.21 594.85,96.62 594.9,85.12 595,53.35 595.1,85.63 595.2,106.57 595.35,123.33 595.5,132.41 595.55,137.27 595.75,142.72 595.9,146.27 596,144.62 596.2,152.24 596.25,152.51 596.5,154.46 596.6,155.3 596.95,157.79 597,155.48 597.3,157.64 597.5,155.59 597.65,154.25 598,158.8 598.35,158.11 598.7,155.8 599.05,158.38 599.4,157.68 599.75,153.93 600.1,158.64 600.45,159.72 600.8,155.7 601.15,156.31 601.5,160.39 601.85,155.51 602.2,157.86 602.55,158.19 602.9,157.92 603.25,154.78 603.4,155.84 603.6,156.11 603.9,156.24 603.95,154.02 604.3,151.78 604.4,154.18 604.65,152.24 604.7,150.74 604.9,146.82 605,146.28 605.15,142.33 605.35,135.59 605.4,131.04 605.55,121.56 605.7,103.07 605.8,82.32 605.9,49.35 606,82.62 606.05,93.88 606.1,103.32 606.25,120.41 606.4,132.1 606.65,142.64 606.75,145 606.9,148.86 607.1,148.58 607.4,150.61 607.45,153.33 607.8,155.27 607.9,157.98 608.15,156.51 608.4,154.87 608.5,157.45 608.85,155.51 608.9,154.63 609.2,160.82 609.55,157.74 609.9,158.47 610.25,158.37 610.6,160.26 610.95,158.11 611.3,159.5 611.65,156.27 612,155.76 612.35,159.85 612.7,159.91 613.05,158.49 613.4,158.04 613.75,157.92 614.1,156.62 614.45,159.79 614.8,158.43 615.15,158.1 615.5,157.79 615.85,158.6 616.2,157.64 616.55,157.79 616.75,154.87 616.9,157.16 617.25,159.15 617.6,154.6 617.75,154.78 617.95,155.59 618.25,154.26 618.3,153.5 618.55,148.55 618.65,150.26 618.75,146.83 619,142.59 619.25,135.08 619.35,128.49 619.4,125.6 619.55,110.15 619.65,90.51 619.7,77.42 619.75,60.6 619.85,90.12 619.95,108.09 620.05,120.16 620.1,124.14 620.25,133.87 620.4,140.29 620.5,142.24 620.75,146.31 620.95,148.6 621.1,152.22 621.25,152.61 621.45,154.85 621.75,155.72 621.8,153.84 622.15,155.65 622.25,152.64 622.5,157.88 622.75,155.97 622.85,153.75 623.2,151.21 623.25,153.09 623.55,147.94 623.75,147.08 623.9,146.38 624,143.3 624.25,133.64 624.4,124.98 624.55,106.99 624.6,99.24 624.65,88.51 624.75,58.1 624.85,88.79 624.95,107.06 625.1,125.76 625.25,133.67 625.3,138.51 625.5,142.16 625.65,147.39 625.75,146.78 625.95,148.9 626,151.35 626.25,153.82 626.35,151.61 626.6,155.97 626.7,153.41 626.75,154.84 627.05,155.59 627.1,155.93 627.25,152.52 627.4,157.35 627.6,155.59 627.75,153.88 628.1,151.73 628.4,148.68 628.45,148.63 628.6,149.18 628.8,144.37 628.85,142.24 629.1,133.63 629.15,132.63 629.25,123.78 629.4,106.44 629.5,87.67 629.6,55.85 629.7,87.36 629.8,106.51 629.85,112.87 629.95,123.31 630.1,133.87 630.2,138.68 630.35,144.22 630.55,148.8 630.6,149.21 630.8,151.75 630.9,151.05 631.1,150.91 631.25,153.98 631.6,154.71 631.95,155.99 632.1,156.8 632.3,155.7 632.6,156.24 632.65,157.75 633,155.98 633.35,157.42 633.7,159.24 634.05,158.3 634.4,157.22 634.75,158.81 635.1,161.52 635.45,157.83 635.8,160.5 636.15,159.08 636.5,160.96 636.85,157.57 637.2,161.65 637.55,158.84 637.9,158.24 638.25,158.2 638.6,159.3 638.95,158.38 639.3,157.9 639.65,159.82 640,156.66 640.25,155.95 640.35,158.49 640.7,157.87 640.75,158.35 641.05,152.55 641.25,157.17 641.4,155.81 641.75,155.9 642.05,149.48 642.1,150.89 642.25,148.34 642.45,143.15 642.5,142.97 642.75,135.67 642.8,131.5 642.9,125.6 643.05,108.65 643.15,89.83 643.25,59.35 643.35,89.34 643.45,107.16 643.5,115.42 643.6,124.3 643.75,133.79 643.85,139.7 644,145.29 644.2,146.18 644.25,145.11 644.45,148.83 644.55,150.27 644.75,152.8 644.9,154.61 645.25,154.76 645.6,154.7 645.75,156.15 645.95,154.78 646.25,156.35 646.3,155.52 646.65,160.49 647,157.87 647.35,155.49 647.7,155.2 648.05,155.9 648.4,153.97 648.75,155.03 648.9,154.87 649.1,156.98 649.4,154.64 649.45,154.03 649.8,152.45 649.9,152.39 650.15,153.04 650.4,151.51 650.5,152.66 650.7,148.5 650.85,148.86 650.9,147.09 651.15,141.61 651.2,139.34 651.4,130.86 651.55,122.39 651.7,105.09 651.8,84.98 651.9,53.35 652,84.74 652.1,104.1 652.25,121.13 652.4,132.61 652.6,140.08 652.65,140.85 652.9,145.67 652.95,147.49 653.1,148.91 653.3,148.94 653.4,153.02 653.5,151.5 653.65,151.71 653.9,154.37 654,153.86 654.35,152.32 654.4,153.17 654.5,150.75 654.7,150.95 654.9,148.02 655,152.37 655.05,147.8 655.3,149.41 655.4,146.37 655.5,144.89 655.75,140.92 656,131.99 656.1,126.06 656.15,122.93 656.3,104.48 656.4,85.1 656.45,71 656.5,53.35 656.6,84.93 656.7,104.14 656.8,116.95 656.85,121.68 657,132.05 657.15,138.73 657.25,140.77 657.5,145.46 657.7,149.84 657.85,147.86 658,150.28 658.2,154.26 658.4,148.89 658.5,151.97 658.55,154.04 658.9,151.05 659,159.47 659.25,149.59 659.4,155.11 659.5,155.07 659.6,153.89 659.9,151.05 659.95,151.56 660.2,147.94 660.3,149.07 660.4,145.27 660.65,141.29 660.9,132.92 661,124.82 661.05,121.42 661.2,104.05 661.3,83.74 661.35,70.16 661.4,51.85 661.5,83.76 661.6,104.09 661.7,116.59 661.75,121.46 661.9,132.44 662.05,138.26 662.15,143.25 662.4,146.56 662.6,151.36 662.75,154.07 662.9,153.77 663.1,152.97 663.4,154.21 663.45,153.44 663.8,156.81 663.9,157.53 664.15,159.65 664.4,158.77 664.5,157.38 664.85,157.03 665.2,158.15 665.55,157.73 665.9,160.05 666.25,159.43 666.6,156.95 666.95,157.26 667.3,160.31 667.65,158.85 668,158.12 668.35,160.23 668.7,157.99 669.05,158.19 669.4,157.97 669.75,155.82 670.1,159.95 670.45,153.86 670.8,157.93 671.15,157.7 671.5,159.85 671.85,158.72 672.2,158.86 672.55,156.42 672.9,155.3 673.25,156.74 673.6,159.34 673.95,159.44 674.3,158.89 674.65,158.55 675,159.7 675.35,159.8 675.7,159.15 676.05,158.66 676.4,160.32 676.75,160.49 677.1,156.98 677.45,160.36 677.8,159.54 678.15,160.15 678.5,159.39 678.85,156.87 679.2,156.92 679.55,161.21 679.9,158.86 680.25,156.36 680.6,158.83 680.95,157.7 681.3,155.42 681.65,154.61 682,155.41 682.35,157.87 682.7,157.08 682.75,156.73 683.05,157.1 683.25,157.21 683.4,153.02 683.75,154.66 684.1,152.43 684.25,150.98 684.45,150.33 684.55,149.87 684.75,146.94 684.8,144.6 685,141.16 685.15,138.37 685.25,130.35 685.4,119 685.5,108.14 685.55,101.55 685.65,80.15 685.75,45.6 685.85,80.27 685.95,100.87 686.1,119.36 686.2,127.62 686.25,131.16 686.5,142.41 686.55,143.71 686.75,147.12 686.9,150.51 686.95,149.99 687.25,153.73 687.6,152.32 687.75,152.6 687.95,156.52 688.25,154.06 688.3,155.72 688.65,159.48 688.75,156.08 689,156.38 689.35,159.32 689.7,153.84 690.05,158.94 690.4,161.11 690.75,157.91 691.1,157.92 691.45,159.05 691.8,160.68 692.15,156.33 692.5,158.19 692.85,157.78 693.2,158.84 693.55,158.21 693.9,158.87 694.25,157.2 694.6,157.75 694.95,156.52 695.3,156.27 695.4,156.93 695.65,156.65 695.9,154.8 696,158.57 696.35,155.3 696.4,153.38 696.7,155.75 696.9,152.09 697.05,150.56 697.2,153.5 697.4,148.36 697.65,142.99 697.75,139.03 697.9,133.03 698.05,123.99 698.1,116.17 698.2,104.59 698.3,84.56 698.4,51.85 698.45,70.01 698.5,84.52 698.6,104.39 698.75,124.04 698.8,127.04 698.9,133.09 699.15,143.37 699.4,148.9 699.5,151.06 699.6,151.29 699.85,153.07 699.9,153.45 700.2,156.63 700.4,153.27 700.55,154.4 700.9,155.63 701.25,157.49 701.4,156.26 701.6,156.78 701.95,156.16 702.3,157.31 702.65,158.4 703,159.29 703.35,157.88 703.7,160.87 704.05,157.71 704.4,162.39 704.75,159.12 705.1,158.25 705.45,156.63 705.8,153.02 706,156.71 706.15,157.03 706.5,159.07 706.85,153.64 707,157.93 707.2,154.21 707.5,154.16 707.55,149.39 707.8,151.11 707.9,149.43 708,149.46 708.25,144.02 708.5,134.18 708.6,130.32 708.65,126.47 708.8,110.41 708.9,92.67 708.95,80 709,63.7 709.1,91.98 709.2,109.34 709.3,122.35 709.35,126.25 709.5,135 709.65,140.23 709.75,143.46 710,147.95 710.2,149.64 710.35,152.58 710.5,155.03 710.7,153.16 710.9,152.49 711,151.67 711.05,152.56 711.4,154.82 711.5,154.85 711.75,153.19 711.9,153.3 712,152.55 712.1,151.13 712.4,153.17 712.45,151.59 712.7,152.36 712.8,147.01 712.9,146.46 713.15,142.57 713.4,131.85 713.5,124.76 713.55,121.21 713.7,104.54 713.8,85.06 713.85,71.13 713.9,53.35 714,85.2 714.1,104.58 714.2,117.1 714.25,121.61 714.4,132.43 714.55,139.29 714.65,141.4 714.9,146.85 715.1,148.22 715.25,147.96 715.4,149.37 715.6,152.61 715.9,152.74 715.95,154.4 716.1,152.21 716.3,153.12 716.4,153.53 716.6,152.33 716.65,149.89 716.9,148.78 717,148.21 717.1,145.58 717.35,142.7 717.6,134.26 717.7,127.12 717.75,125.24 717.9,107.3 718,89.04 718.05,76.06 718.1,59.35 718.2,89.23 718.3,107.5 718.4,120.52 718.45,124.33 718.6,133.94 718.75,139.27 718.85,140.78 719.1,146.98 719.3,148.26 719.45,151.86 719.6,151.42 719.75,154.44 719.8,156.5 720.1,154.18 720.15,153.39 720.25,153.45 720.5,154.11 720.6,154.42 720.75,151.88 720.85,153.38 721.1,155.53 721.2,151.28 721.25,150.78 721.55,150.65 721.75,144.45 721.9,142.3 722,141.07 722.25,131.34 722.4,121.75 722.55,103.31 722.6,92.68 722.65,81.87 722.75,48.35 722.85,81.72 722.95,102.37 723.1,120.44 723.25,132.61 723.3,134.33 723.5,141.52 723.65,146.18 723.75,147.56 723.95,149.63 724,149.95 724.25,153.82 724.35,152.65 724.5,152.45 724.7,151.95 724.75,152.78 725,152.12 725.05,153.82 725.25,154.06 725.4,150.67 725.5,153.49 725.75,153.82 726,152.14 726.1,150.04 726.3,151.47 726.45,147.26 726.5,145.92 726.75,141.4 726.8,141.23 727,134.34 727.15,124.43 727.3,106.74 727.4,87.34 727.5,56.85 727.6,87.46 727.7,106.66 727.85,122.45 728,133.79 728.2,142.29 728.25,142.82 728.5,148.55 728.55,147.49 728.7,148.51 728.9,151.24 729,154.35 729.25,155.41 729.5,154.13 729.6,153.5 729.95,155.14 730,157.84 730.25,156.54 730.3,155.21 730.5,157.04 730.65,154.74 730.75,154.46 731,153.49 731.25,155.51 731.35,154.83 731.7,153.54 731.75,150.86 732.05,153.2 732.25,148.51 732.4,145.74 732.5,145.82 732.75,137 732.9,126.58 733.05,109.45 733.1,102.08 733.15,92.45 733.25,63.1 733.35,92.74 733.45,109.73 733.6,127 733.75,135.36 733.8,139.5 734,144.69 734.15,150.54 734.25,148.73 734.45,150.05 734.5,150.89 734.75,153.35 734.85,153.3 735.2,157.83 735.25,158.18 735.55,157.41 735.75,155.9 735.9,157.45 736.25,157.02 736.6,160.38 736.95,155.88 737.3,159.3 737.65,158.11 738,155.84 738.35,157.69 738.7,157.22 739.05,159.4 739.4,159.02 739.75,157.72 740.1,158.31 740.45,161.14 740.8,159.36 741.15,157.51 741.5,158.49 741.85,157.79 742.2,158.16 742.55,159.52 742.9,161.24 743.25,156.12 743.6,158.64 743.95,158.7 744.3,158.48 744.65,158.3 745,158.04 745.35,159.96 745.7,157.79 746.05,158.24 746.4,158.39 746.75,158.51 747.1,158.07 747.45,159.72 747.8,158.22 748.15,158.47 748.5,158.17 748.85,156.81 749.2,157.08 749.55,156.78 749.9,158.6 750.25,157.31 750.6,156.82 750.95,158.72 751.3,159.16 751.65,155.86 752,160.88 752.35,158.49 752.7,158.31 753.05,160.03 753.4,158.6 753.75,157.63 754.1,161.71 754.45,156.98 754.8,158.41 755.15,159.79 755.5,157.03 755.85,158.44 756.2,159.16 756.55,162.1 756.9,157.33 757.25,158.56 757.6,159.6 757.95,158.77 758.3,156.91 758.65,159.25 759,158.82 759.35,159.32 759.7,160.31 760.05,160.14 760.4,159.22 760.75,159.05 761.1,156.97 761.45,158.32 761.8,158.79 762.15,157.84 762.5,158.52 762.85,157.12 763.2,160.48 763.55,161.3 763.9,157.53 764.25,158.58 764.6,157.55 764.95,159.59 765.3,158.24 765.65,157.53 766,156.86 766.35,157.06 766.6,155.16 766.7,157.45 767.05,154.91 767.1,156.61 767.4,155.35 767.6,156.12 767.75,153.99 768.1,153.58 768.4,148.37 768.45,149.8 768.6,146.61 768.8,143.05 768.85,141.57 769.1,132.32 769.15,126.72 769.25,121.02 769.4,101.84 769.5,82.46 769.6,49.1 769.7,81.79 769.8,101.57 769.85,110.56 769.95,119.52 770.1,131.1 770.2,135.19 770.35,139.96 770.55,144.68 770.6,144.08 770.8,148.1 770.9,150.49 771,149.45 771.1,150.53 771.25,150.63 771.5,152.31 771.6,154.67 771.95,152.48 772,152.17 772.1,150.86 772.3,150.14 772.5,152.34 772.6,148.2 772.65,148.13 772.8,147.94 773,145.05 773.25,142.61 773.35,134.78 773.5,130.97 773.65,120.67 773.7,113.21 773.8,101.86 773.9,82.13 774,49.35 774.05,67.59 774.1,81.93 774.2,102.59 774.35,121.18 774.4,123.88 774.5,128.5 774.75,141.87 775,145.08 775.1,148.12 775.2,147.69 775.45,149.08 775.5,149.23 775.6,152.33 775.8,152.87 776,148.02 776.1,149.73 776.15,153.55 776.5,149.7 776.6,147.89 776.85,148.05 776.9,147.43 777,146.33 777.1,144.46 777.2,142.94 777.35,139.27 777.55,132.67 777.6,128.99 777.75,117.81 777.9,100.23 778,79.78 778.1,45.6 778.2,79.44 778.25,91.31 778.3,100.57 778.45,119.82 778.6,130.38 778.85,142.1 778.95,144.21 779.1,145.41 779.3,147.53 779.5,151.02 779.6,151.17 779.65,150.6 780,148.19 780.1,149.6 780.35,152.93 780.5,153.49 780.6,153.43 780.7,150.31 781,152.6 781.05,150.2 781.1,151.19 781.3,149.79 781.4,147.22 781.5,146.3 781.75,140.07 782,132.72 782.1,126.3 782.15,124.34 782.3,107.65 782.4,89.45 782.45,76.21 782.5,59.35 782.6,89.39 782.7,107.61 782.8,120.24 782.85,124.56 783,133.1 783.15,140.16 783.25,143.15 783.5,147.6 783.7,151.59 783.85,154.05 784,152.25 784.2,153.29 784.5,151.65 784.55,154.81 784.9,155.14 785,152.82 785.25,156.69 785.5,157.39 785.6,155.56 785.95,156.32 786.3,155.63 786.65,158.25 787,155.01 787.35,156.79 787.7,160.08 788.05,157.3 788.4,157.85 788.75,156.87 789.1,155.26 789.45,156.74 789.8,157.14 790.1,154.8 790.15,156.72 790.5,157.57 790.6,157.15 790.85,152.84 791.1,153.05 791.2,151.81 791.55,153.97 791.6,153.02 791.9,150.63 792.1,146.02 792.25,142.96 792.35,141.98 792.6,132.26 792.75,121.16 792.9,104.08 792.95,95.43 793,84.16 793.1,51.85 793.2,83.53 793.3,103.86 793.45,121.85 793.6,131.86 793.65,134.19 793.85,141.01 794,146.1 794.1,146.9 794.3,149.69 794.35,148.73 794.6,151.1 794.7,152.76 795.05,152.55 795.1,152.34 795.4,154.4 795.6,156.96 795.75,155.72 796.1,157.95 796.45,155.94 796.8,155.89 797.15,154.47 797.5,155.75 797.85,156.1 798.2,157.15 798.55,157.74 798.9,157.66 799.25,156.55 799.6,156.16 799.95,156.48 800.3,157.07 800.65,156.47 801,156.14 801.1,155.51 801.35,153.79 801.6,154.04 801.7,152.83 802.05,154.58 802.1,149.97 802.4,151.28 802.6,153.61 802.75,150.28 802.9,146.03 803.1,144.66 803.35,140.47 803.45,135.5 803.6,129.21 803.75,117.73 803.8,112.33 803.9,100.48 804,78.12 804.1,44.35 804.15,63.15 804.2,77.95 804.3,98.67 804.45,117.36 804.5,121.05 804.6,126.09 804.85,137.75 805.1,141.77 805.2,143.09 805.3,142.53 805.55,145.43 805.6,145.45 805.75,146.96 805.9,145.31 806.1,147.65 806.25,147.77 806.6,145.56 806.75,145.89 806.95,144.85 807.1,146.6 807.25,140.91 807.3,143.56 807.55,139.46 807.65,139.8 807.75,139.85 808,132.32 808.25,122.52 808.35,114.81 808.4,112.51 808.5,100.07 808.55,92.39 808.65,70.01 808.7,55 808.75,35.6 808.85,69.98 808.95,91.07 809,98.91 809.05,104.04 809.1,110.47 809.25,120.64 809.4,127.67 809.5,129.34 809.75,134.89 809.8,133.77 809.95,136.47 810,136.65 810.1,135.96 810.25,133.93 810.45,129.54 810.5,124.72 810.65,121.18 810.75,111.48 810.8,106.21 810.9,90.62 811,65.35 811.1,91.22 811.15,100.58 811.2,108.19 811.25,112.97 811.35,121.41 811.5,133.44 811.75,138.01 811.85,143.61 812,143.71 812.2,144.9 812.5,149.87 812.55,151.18 812.9,148.58 813,153.23 813.25,151.45 813.5,154.67 813.6,149.86 813.95,151.16 814,154.25 814.3,155.3 814.65,157.35 815,157.03 815.1,155.58 815.35,154.25 815.6,153.77 815.7,157.04 816.05,152.85 816.1,153.55 816.4,149.61 816.6,152.61 816.75,151.49 816.9,153.79 817.1,149.24 817.35,143.34 817.45,141.81 817.6,134.45 817.75,126.2 817.8,121.27 817.9,112.05 818,94.42 818.1,66.6 818.15,81.96 818.2,94.12 818.3,110.8 818.45,125.46 818.5,127.72 818.6,132.74 818.85,140.1 819.1,143.32 819.2,141.2 819.3,140.58 819.55,139.94 819.6,138.65 819.9,137.94 820.1,134.12 820.25,133.1 820.6,130.72 820.95,127.77 821.1,128.15 821.3,126.85 821.65,131.12 822,138.6 822.35,145.75 822.7,150.69 823.05,155.92 823.4,155.58 823.75,156.93 824.1,158.87 824.45,157.79 824.8,157.79 825.15,156.38 825.5,159.29 825.85,156.2 826.2,158.34 826.55,155.33 826.75,158.8 826.9,155.58 827.25,159.39 827.6,153.63 827.75,154.87 827.95,156.47 828.25,152.2 828.3,153.08 828.55,150.24 828.65,146.74 828.75,148.7 829,143.61 829.25,132.41 829.35,127.55 829.4,122.47 829.55,104.8 829.65,85.37 829.7,71.17 829.75,53.1 829.85,84.98 829.95,105.67 830.05,118.93 830.1,121.67 830.25,131.93 830.4,140.71 830.5,142.71 830.75,148.97 830.95,152.58 831.1,151.98 831.25,152.1 831.45,150.85 831.75,159.13 831.8,154.67 832.15,157.29 832.25,157.36 832.5,155.41 832.75,160.2 832.85,159.38 833.2,159.33 833.55,156.61 833.9,155.72 834.25,157.84 834.6,158.14 834.95,157.2 835.3,159.53 835.65,159.29 836,159.54 836.35,158.32 836.7,160.96 837.05,159.39 837.4,155.17 837.75,158.23 838.1,159.09 838.45,160.57 838.8,158.72 839.15,158.75 839.5,158.08 839.85,159.89 840.2,158.07 840.55,157.52 840.9,156.82 841.25,157.98 841.6,155.4 841.95,152.49 842.3,154.41 842.65,151.07 843,151.34 843.35,150.35 843.7,150.8 844.05,150.04 844.4,147.27 844.75,147.56 845.1,145.69 845.45,149.79 845.8,147.81 846.15,150.92 846.5,146.32 846.85,143.57 847.2,148.48 847.55,146.05 847.75,145.86 847.9,145.54 848.25,145.77 848.6,144.73 848.75,141.2 848.95,144.18 849.25,140.18 849.3,139.9 849.55,140.41 849.65,138.02 849.75,134.83 850,127.37 850.25,118.81 850.35,112.03 850.4,107.04 850.55,86.65 850.65,64.73 850.7,48.93 850.75,28.7 850.85,65.71 850.95,88.85 851.05,102.93 851.1,109.26 851.25,122.09 851.4,129.35 851.5,133.86 851.75,144.13 851.95,148.73 852.1,149.04 852.25,149.1 852.45,151.64 852.75,151.07 852.8,153.71 853.15,156.74 853.25,158.3 853.5,157.51 853.75,157.14 853.85,156.34 854.2,155.7 854.55,156.54 854.9,157.79 855.25,155.85 855.6,158.4 855.95,155.65 856.3,154.57 856.65,155.74 857,154.84 857.35,155.3 857.7,158.96 858.05,157.05 858.4,157.67 858.75,159.03 859.1,159.18 859.45,156.61 859.8,159.25 860.15,157.85 860.5,157.26 860.85,157.84 861.2,155.06 861.55,153.56 861.9,156.76 862.25,157.64 862.6,156 862.95,156.07 863,155.58 863.3,157.89 863.5,156.66 863.65,157.1 864,153.84 864.35,152.62 864.5,152.66 864.7,150.35 864.8,149.14 865,149.36 865.05,146.23 865.25,141.11 865.4,137.78 865.5,134.39 865.65,122.63 865.75,112.88 865.8,105.02 865.9,85.68 866,54.35 866.1,85.76 866.2,106.07 866.35,121.66 866.45,131.17 866.5,131.68 866.75,141.78 866.8,144.26 867,147.87 867.15,149.39 867.2,147.37 867.5,152.38 867.85,152.01 868,157.56 868.2,154.06 868.5,155.11 868.55,153.24 868.9,154.46 869,153.32 869.25,156.63 869.6,154.67 869.75,155.73 869.95,153.67 870.25,153.33 870.3,155.74 870.65,151.26 870.75,149.6 871,150.82 871.05,148.31 871.25,146.85 871.35,146.87 871.5,141.56 871.7,136.51 871.75,132.64 871.9,124.49 872.05,107.13 872.15,87.43 872.25,56.85 872.35,87.34 872.4,98.19 872.45,107.06 872.6,122.37 872.75,134.15 873,141.05 873.1,143.84 873.25,145.24 873.45,152.68 873.75,152.27 873.8,152.81 874.15,152.93 874.25,155.68 874.5,151.67 874.75,155.04 874.85,158.27 875.1,154.65 875.2,155.24 875.25,156.18 875.55,153.91 875.6,155.07 875.9,156.01 876.1,154.48 876.25,154.29 876.6,151.72 876.9,150.25 876.95,149.37 877.1,149.14 877.3,144.27 877.35,140.45 877.6,130.21 877.65,130.14 877.75,122.6 877.9,103.79 878,83.72 878.1,51.85 878.2,84.52 878.3,102.93 878.35,111.19 878.45,122.33 878.6,133.74 878.7,137.32 878.85,142.29 879.05,146.14 879.1,149.7 879.3,151.66 879.4,151.1 879.6,150.81 879.75,152.48 880.1,155.77 880.45,154.68 880.6,157.23 880.8,156.69 881.1,156.82 881.15,157.37 881.5,157.25 881.85,155.27 882.2,155.89 882.3,159.68 882.55,154.33 882.8,155.08 882.9,157.14 883.25,154.63 883.3,153.56 883.6,151.78 883.8,153.35 883.95,152.96 884.1,152.1 884.3,147.87 884.55,144 884.65,138.74 884.8,133.69 884.95,123.13 885,119.13 885.1,107.01 885.2,87.93 885.3,56.85 885.35,74.35 885.4,87.99 885.5,106.13 885.65,123.45 885.7,126.26 885.8,133.47 886.05,143.04 886.3,147.41 886.4,149.69 886.5,149.69 886.75,152.12 886.8,150.43 887.1,153.9 887.3,153.28 887.45,154.23 887.8,155.39 888.15,156.24 888.3,153.72 888.5,153.99 888.85,156.01 889.2,157.27 889.55,157.19 889.9,158.01 890.25,158.64 890.6,157.48 890.95,156.72 891.3,155.23 891.65,155.32 892,155.97 892.35,157.07 892.7,157.02 893.05,156.72 893.4,156.49 893.75,157.61 894.1,156.96 894.45,157.04 894.8,156.97 895.15,155.62 895.5,154.76 895.85,156.74 896,156.5 896.2,155.39 896.5,154.71 896.55,158.51 896.9,153.44 897,153.95 897.25,153.79 897.5,150.62 897.6,151.74 897.8,152.3 897.95,149.42 898,148.34 898.25,143.39 898.3,144.08 898.5,134.6 898.65,123.99 898.8,107.45 898.9,89.24 899,59.35 899.1,89.29 899.2,107.94 899.35,122.57 899.5,134.73 899.7,143.8 899.75,144.09 900,146.96 900.05,146.96 900.2,150.06 900.4,149.93 900.5,152.87 900.75,152.25 901,155.07 901.1,155.86 901.4,151.39 901.45,154.78 901.5,153.38 901.8,152.41 901.9,153.52 902,154.04 902.15,155.69 902.4,151.62 902.5,155.04 902.85,155.05 902.9,152.82 903.2,150.54 903.4,147.46 903.55,143.53 903.65,143.25 903.9,133.91 904.05,124.33 904.2,108.29 904.25,99.01 904.3,88.4 904.4,57.85 904.5,87.97 904.6,106.59 904.75,123.66 904.9,133.15 904.95,136.81 905.15,142.6 905.3,148.36 905.4,149.81 905.6,151.37 905.65,150.33 905.9,153.56 906,154.4 906.35,153.18 906.4,155.35 906.7,156.62 906.9,156.29 907.05,158.47 907.4,158.38 907.75,155.73 908.1,157.33 908.45,156.11 908.8,158.29 909.15,156.28 909.5,158.95 909.85,158.23 910.2,159.11 910.55,157.51 910.9,155.61 911.25,160.27 911.6,157.43 911.95,159.63 912.3,158.19 912.65,158.45 913,159.99 913.35,157.65 913.7,157.13 913.9,154.59 914.05,157.84 914.4,155.75 914.75,155.2 914.9,155 915.1,154.79 915.4,155.12 915.45,149.98 915.7,150.52 915.8,148.42 915.9,149.45 916.15,142.52 916.4,134.11 916.5,127.31 916.55,124.24 916.7,107.24 916.8,87.6 916.85,74.22 916.9,56.85 917,87.77 917.1,107.13 917.2,118.72 917.25,124.51 917.4,131.7 917.55,137.93 917.65,141.29 917.9,147.18 918.1,150.22 918.25,151.37 918.4,152.36 918.6,154.43 918.9,153.69 918.95,152.68 919.3,153.24 919.4,158.15 919.5,151.78 919.65,154.96 919.9,157.26 920,155.79 920.35,153.44 920.5,154.29 920.7,154.89 921,153.91 921.05,150.69 921.3,150.81 921.4,148.97 921.5,148.59 921.75,143.43 922,129.69 922.1,124.1 922.15,121.35 922.3,103.45 922.4,82.08 922.45,67.27 922.5,48.35 922.6,81.67 922.7,103.12 922.8,115.81 922.85,121.25 923,132.13 923.15,140.52 923.25,141.14 923.5,146.98 923.7,148.26 923.85,152.48 924,152.33 924.2,154.7 924.5,153.8 924.55,154.98 924.9,157.87 925,156.32 925.25,157.87 925.5,158.05 925.6,156.88 925.95,155.42 926.3,159.32 926.65,158.29 927,159.56 927.35,157.1 927.7,155.79 928.05,155.03 928.4,156.72 928.75,159.27 928.9,158.46 929.1,157.38 929.4,157.22 929.45,158.04 929.8,155.78 929.9,156.49 930.15,155.24 930.4,150.75 930.5,152.58 930.7,153.16 930.85,149.07 930.9,148.67 931.15,143.07 931.2,139.65 931.4,135.28 931.55,123.89 931.7,106.2 931.8,86.37 931.9,55.6 932,86.68 932.1,105.82 932.25,124.68 932.4,134.92 932.6,140.25 932.65,144.74 932.9,149.46 932.95,148.62 933.1,152.38 933.3,150.94 933.4,152.16 933.65,153.08 933.9,154.43 934,157.55 934.35,155.13 934.4,155.48 934.7,156.19 934.9,158.07 935.05,157.44 935.4,159.44 935.75,157.36 936.1,156.67 936.45,157.93 936.8,158.8 937.15,157.47 937.5,162.68 937.85,161.55 938.2,160.28 938.55,159.05 938.9,160.97 939.25,158.08 939.6,157.81 939.95,159.76 940.3,159.63 940.65,159.79 941,158.82 941.35,159.09 941.7,160.87 942.05,160.27 942.4,156.97 942.75,158.98 943.1,159.13 943.45,160.01 943.8,158.62 944.15,157.99 944.5,158.25 944.85,156.32 945.2,158.84 945.55,158 945.9,159.52 946.25,157.34 946.6,158.17 946.95,157.37 947.3,157.22 947.65,159.76 948,158.05 948.35,159.35 948.7,157.06 949.05,161.69 949.4,156.19 949.75,157.92 950.1,157.86 950.45,159.41 950.8,158.8 951.15,158.27 951.5,159.71 951.85,158.75 952.2,159.24 952.55,159.56 952.9,158.35 953.25,158.01 953.6,158.9 953.95,157.82 954.3,158.97 954.65,160.01 955,159.63 955.35,157.83 955.7,156.51 956.05,158.27 956.4,158.16 956.75,159.92 957.1,157.75 957.45,157.98 957.8,159.33 958.15,157.54 958.5,157.98 958.85,160.65 959.2,160.29 959.55,159 959.9,158.43 960.25,156.58 960.6,158.72 960.95,157.91 961.3,158.05 961.65,156.86 962,157.44 962.35,157 962.7,157.47 963,158.79 963.05,157.2 963.4,153.83 963.5,154.65 963.75,153.29 964,153.76 964.1,155.35 964.45,153.54 964.5,151.87 964.8,150.63 965,146.82 965.15,143.4 965.25,141.13 965.5,132.51 965.65,124.27 965.8,105.41 965.85,97.98 965.9,87.14 966,55.6 966.1,86.27 966.2,105.68 966.35,123.08 966.5,133.7 966.55,135.52 966.75,143.53 966.9,147.14 967,147.79 967.2,150.2 967.25,150.16 967.5,152.5 967.6,150.99 967.95,154.34 968,154.18 968.3,153.16 968.5,157.67 968.65,153.24 969,153.29 969.35,154.5 969.5,151.02 969.7,152.07 970,149.72 970.05,150.18 970.3,149.31 970.4,148.78 970.5,148.38 970.75,142.82 971,133.48 971.1,126.63 971.15,121.85 971.3,105.24 971.4,84.98 971.45,71.14 971.5,53.35 971.6,85.32 971.7,104.81 971.8,117.94 971.85,122.83 972,131.15 972.15,138.76 972.25,140.6 972.5,147.16 972.7,148.61 972.85,152.65 973,152.54 973.2,151.68 973.5,153.76 973.55,152.18 973.9,154.51 974,155.33 974.25,155.01 974.4,151.82 974.5,154.06 974.6,155.19 974.9,154.44 974.95,155.54 975.3,150.97 975.4,152.99 975.65,149.73 975.7,150.41 975.9,148.37 976,147.13 976.15,142.52 976.35,136.81 976.4,133.27 976.55,123.81 976.7,108.81 976.8,90.25 976.9,60.6 977,90.1 977.05,100.54 977.1,109.41 977.25,125.82 977.4,135.39 977.65,141.64 977.75,145.81 977.9,149.1 978.1,151.43 978.4,153.82 978.45,153.21 978.8,157.56 978.9,159.44 979.15,155.92 979.4,155.14 979.5,159.68 979.85,156.4 979.9,158.98 980.2,160.31 980.55,156.46 980.9,158.47 981.25,157.72 981.6,159.12 981.95,158.97 982.3,161.44 982.65,159.57 983,158.79 983.35,160.52 983.7,158.57 984.05,158.5 984.4,162.34 984.75,157.96 985.1,158.5 985.45,159.33 985.8,157.78 986.15,156.3 986.5,160.93 986.85,158.31 987.2,157.08 987.55,158.98 987.9,158.14 988.25,157.98 988.6,159.72 988.95,162.92 989.3,160.46 989.65,160.42 990,157.09 990.35,159.18 990.7,157.43 991.05,160.19 991.4,158.65 991.75,158.94 992.1,161.29 992.45,157.81 992.8,156.3 993.15,159.17 993.5,156.11 993.85,156.12 994.1,157.15 994.2,156.45 994.55,157.35 994.6,158.34 994.9,156.62 995.1,156 995.25,155.24 995.6,154.7 995.9,148.68 995.95,151.06 996.1,147.45 996.3,143.4 996.35,143.59 996.6,133.85 996.65,131.9 996.75,125.01 996.9,105.98 997,87.9 997.1,56.85 997.2,88.12 997.3,107.74 997.35,113.95 997.45,123.08 997.6,133.07 997.7,139.33 997.85,144.5 998.05,146.71 998.1,148.07 998.3,151.2 998.4,149.43 998.6,152.71 998.75,156.25 999.1,158.4 999.45,155.94 999.6,158.99 999.8,155.87 1000.1,155.78 1000.15,153.76 1000.5,158.68 1000.85,153.56 1001.2,161.07 1001.55,158.29"/>
<path d="M50.0,175.6H1002.0V8.2H50.0ZM44.0,160.4H50.0M44.0,129.95H50.0M44.0,99.5H50.0M44.0,69.05H50.0M44.0,38.6H50.0M44.0,8.15H50.0M46.5,145.18H50.0M46.5,114.73H50.0M46.5,84.28H50.0M46.5,53.83H50.0M46.5,23.38H50.0M46.5,175.6H50.0M50,175.6V181.6M145.2,175.6V181.6M240.4,175.6V181.6M335.6,175.6V181.6M430.8,175.6V181.6M526,175.6V181.6M621.2,175.6V181.6M716.4,175.6V181.6M811.6,175.6V181.6M906.8,175.6V181.6M1002,175.6V181.6M97.6,175.6V178.6M192.8,175.6V178.6M288,175.6V178.6M383.2,175.6V178.6M478.4,175.6V178.6M573.6,175.6V178.6M668.8,175.6V178.6M764,175.6V178.6M859.2,175.6V178.6M954.4,175.6V178.6" fill="none" stroke="#2a2a2a" stroke-width="1.4"/>
<text transform="translate(41.5,168.2) scale(1,1.03)" font-size="19.5" text-anchor="end" >0</text>
<text transform="translate(41.5,137.75) scale(1,1.03)" font-size="19.5" text-anchor="end" >1</text>
<text transform="translate(41.5,107.3) scale(1,1.03)" font-size="19.5" text-anchor="end" >2</text>
<text transform="translate(41.5,76.85) scale(1,1.03)" font-size="19.5" text-anchor="end" >3</text>
<text transform="translate(41.5,46.4) scale(1,1.03)" font-size="19.5" text-anchor="end" >4</text>
<text transform="translate(41.5,15.95) scale(1,1.03)" font-size="19.5" text-anchor="end" >5</text>
<text transform="translate(50,201.3) scale(1,1.03)" font-size="19.5" text-anchor="middle" >0</text>
<text transform="translate(145.2,201.3) scale(1,1.03)" font-size="19.5" text-anchor="middle" >10</text>
<text transform="translate(241,201.3) scale(1,1.03)" font-size="19.5" text-anchor="middle" >20</text>
<text transform="translate(336.2,201.3) scale(1,1.03)" font-size="19.5" text-anchor="middle" >30</text>
<text transform="translate(431.4,201.3) scale(1,1.03)" font-size="19.5" text-anchor="middle" >40</text>
<text transform="translate(526.6,201.3) scale(1,1.03)" font-size="19.5" text-anchor="middle" >50</text>
<text transform="translate(621.8,201.3) scale(1,1.03)" font-size="19.5" text-anchor="middle" >60</text>
<text transform="translate(717,201.3) scale(1,1.03)" font-size="19.5" text-anchor="middle" >70</text>
<text transform="translate(812.2,201.3) scale(1,1.03)" font-size="19.5" text-anchor="middle" >80</text>
<text transform="translate(907.4,201.3) scale(1,1.03)" font-size="19.5" text-anchor="middle" >90</text>
<text transform="translate(1006.5,201.3) scale(1,1.03)" font-size="19.5" text-anchor="middle" >100</text>
<text transform="translate(526,225.2) scale(1,1.03)" font-size="20.2" text-anchor="middle" >Time (ms)</text>
<text transform="translate(16.2,83.9) rotate(-90)" font-size="20.6" text-anchor="middle">Signal (V)</text>
<text transform="translate(56.5,33.2) scale(1,1.03)" font-size="22" text-anchor="start" >A</text>
<text transform="translate(993.3,35.5) scale(1,1.06)" font-size="22.5" text-anchor="end" >SSAW ON</text>
<path d="M131.07,432.3V432.17h2.85V432.3ZM134.98,432.3V432.17h2.85V432.3ZM138.88,432.3V432.17h2.85V432.3ZM142.79,432.3V432.04h2.85V432.3ZM146.69,432.3V432.17h2.85V432.3ZM150.59,432.3V432.04h2.85V432.3ZM154.5,432.3V432.04h2.85V432.3ZM158.4,432.3V431.91h2.85V432.3ZM162.31,432.3V431.77h2.85V432.3ZM166.21,432.3V431.25h2.85V432.3ZM170.11,432.3V430.2h2.85V432.3ZM174.02,432.3V430.2h2.85V432.3ZM177.92,432.3V429.14h2.85V432.3ZM181.83,432.3V427.57h2.85V432.3ZM185.73,432.3V421.78h2.85V432.3ZM189.63,432.3V402.32h2.85V432.3ZM193.54,432.3V377.07h2.85V432.3ZM197.44,432.3V346.17h2.85V432.3ZM201.35,432.3V299.09h2.85V432.3ZM205.25,432.3V300.01h2.85V432.3ZM209.15,432.3V316.97h2.85V432.3ZM213.06,432.3V361.29h2.85V432.3ZM216.96,432.3V406h2.85V432.3ZM220.87,432.3V418.49h2.85V432.3ZM224.77,432.3V424.15h2.85V432.3ZM228.67,432.3V425.07h2.85V432.3ZM232.58,432.3V425.86h2.85V432.3ZM236.48,432.3V428.36h2.85V432.3ZM240.39,432.3V424.15h2.85V432.3ZM244.29,432.3V427.04h2.85V432.3ZM248.19,432.3V429.14h2.85V432.3ZM252.1,432.3V430.2h2.85V432.3ZM256,432.3V431.25h2.85V432.3ZM259.91,432.3V431.51h2.85V432.3ZM263.81,432.3V431.91h2.85V432.3ZM267.71,432.3V432.04h2.85V432.3ZM271.62,432.3V432.04h2.85V432.3ZM275.52,432.3V431.91h2.85V432.3ZM279.43,432.3V429.67h2.85V432.3ZM283.33,432.3V431.91h2.85V432.3ZM287.24,432.3V431.77h2.85V432.3ZM291.14,432.3V432.04h2.85V432.3ZM295.04,432.3V431.91h2.85V432.3ZM298.95,432.3V432.04h2.85V432.3ZM302.85,432.3V432.17h2.85V432.3ZM306.75,432.3V432.04h2.85V432.3ZM310.66,432.3V432.17h2.85V432.3ZM314.56,432.3V432.17h2.85V432.3ZM318.47,432.3V432.17h2.85V432.3Z" fill="#575757"/>
<polyline fill="none" stroke="#1a1a1a" stroke-width="1.85" stroke-linejoin="round" points="181.3,430.93 181.79,430.15 182.28,429.29 182.76,428.33 183.25,427.28 183.74,426.12 184.23,424.86 184.72,423.47 185.2,421.96 185.69,420.32 186.18,418.54 186.67,416.63 187.16,414.56 187.64,412.35 188.13,409.99 188.62,407.46 189.11,404.78 189.6,401.94 190.08,398.95 190.57,395.8 191.06,392.5 191.55,389.05 192.04,385.46 192.52,381.74 193.01,377.9 193.5,373.94 193.99,369.89 194.48,365.76 194.96,361.55 195.45,357.3 195.94,353.02 196.43,348.72 196.92,344.44 197.4,340.19 197.89,336 198.38,331.89 198.87,327.88 199.36,324 199.84,320.27 200.33,316.73 200.82,313.38 201.31,310.25 201.8,307.38 202.28,304.76 202.77,302.43 203.26,300.4 203.75,298.69 204.24,297.3 204.72,296.25 205.21,295.54 205.7,295.19 206.19,295.19 206.68,295.54 207.16,296.25 207.65,297.3 208.14,298.69 208.63,300.4 209.12,302.43 209.6,304.76 210.09,307.38 210.58,310.25 211.07,313.38 211.56,316.73 212.04,320.27 212.53,324 213.02,327.88 213.51,331.89 214,336 214.48,340.19 214.97,344.44 215.46,348.72 215.95,353.02 216.44,357.3 216.92,361.55 217.41,365.76 217.9,369.89 218.39,373.94 218.88,377.9 219.36,381.74 219.85,385.46 220.34,389.05 220.83,392.5 221.32,395.8 221.8,398.95 222.29,401.94 222.78,404.78 223.27,407.46 223.76,409.99 224.24,412.35 224.73,414.56 225.22,416.63 225.71,418.54 226.2,420.32 226.68,421.96 227.17,423.47 227.66,424.86 228.15,426.12 228.64,427.28 229.12,428.33 229.61,429.29 230.1,430.15"/>
<path d="M83.7,432.3H327.2V248.7H83.7ZM77.7,432.3H83.7M77.7,406H83.7M77.7,379.7H83.7M77.7,353.4H83.7M77.7,327.1H83.7M77.7,300.8H83.7M77.7,274.5H83.7M77.7,248.2H83.7M80.2,419.15H83.7M80.2,392.85H83.7M80.2,366.55H83.7M80.2,340.25H83.7M80.2,313.95H83.7M80.2,287.65H83.7M80.2,261.35H83.7M83.7,432.3V438.3M132.5,432.3V438.3M181.3,432.3V438.3M230.1,432.3V438.3M278.9,432.3V438.3M327.7,432.3V438.3M108.1,432.3V435.3M156.9,432.3V435.3M205.7,432.3V435.3M254.5,432.3V435.3M303.3,432.3V435.3" fill="none" stroke="#2a2a2a" stroke-width="1.4"/>
<text transform="translate(74.3,440.2) scale(1,1.03)" font-size="19.5" text-anchor="end" >0</text>
<text transform="translate(74.3,413.9) scale(1,1.03)" font-size="19.5" text-anchor="end" >200</text>
<text transform="translate(74.3,387.6) scale(1,1.03)" font-size="19.5" text-anchor="end" >400</text>
<text transform="translate(74.3,361.3) scale(1,1.03)" font-size="19.5" text-anchor="end" >600</text>
<text transform="translate(74.3,335) scale(1,1.03)" font-size="19.5" text-anchor="end" >800</text>
<text transform="translate(74.3,308.7) scale(1,1.03)" font-size="19.5" text-anchor="end" >1000</text>
<text transform="translate(74.3,282.4) scale(1,1.03)" font-size="19.5" text-anchor="end" >1200</text>
<text transform="translate(74.3,256.1) scale(1,1.03)" font-size="19.5" text-anchor="end" >1400</text>
<text transform="translate(83.7,457.5) scale(1,1.03)" font-size="19.5" text-anchor="middle" >1</text>
<text transform="translate(132.5,457.5) scale(1,1.03)" font-size="19.5" text-anchor="middle" >2</text>
<text transform="translate(181.3,457.5) scale(1,1.03)" font-size="19.5" text-anchor="middle" >3</text>
<text transform="translate(230.1,457.5) scale(1,1.03)" font-size="19.5" text-anchor="middle" >4</text>
<text transform="translate(278.9,457.5) scale(1,1.03)" font-size="19.5" text-anchor="middle" >5</text>
<text transform="translate(327.7,457.5) scale(1,1.03)" font-size="19.5" text-anchor="middle" >6</text>
<text transform="translate(208,482) scale(1,1.03)" font-size="20.3" text-anchor="middle" >Fluorescence Intensity (V)</text>
<text transform="translate(18.0,341.4) rotate(-90)" font-size="20.3" text-anchor="middle">Count Number</text>
<text transform="translate(92.2,274.5) scale(1,1.03)" font-size="22.4" text-anchor="start" >B</text>
<path d="M176.6,262.8H220.3" stroke="#1a1a1a" stroke-width="2"/>
<text transform="translate(226.5,268.6) scale(1,1.03)" font-size="16.8" text-anchor="start" >Gaussian Fit</text>
<polygon fill="#1a1a1a" points="410.5,413.05 411.5,412.67 412.5,410.95 413.5,412.86 414.5,414.13 415.5,413.18 416.5,413.44 417.5,413.31 418.5,412.5 419.5,411.75 420.5,413.62 421.5,413.83 422.5,413.41 423.5,413.28 424.5,413.26 425.5,412.89 426.5,413.15 427.5,412.92 428.5,413.2 429.5,412.09 430.5,412.36 431.5,413.41 432.5,412.62 433.5,410.81 434.5,413.02 435.5,410.93 436.5,414.57 437.5,413.54 438.5,413.5 439.5,412.34 440.5,411.93 441.5,412.73 442.5,412.93 443.5,412.25 444.5,413.05 445.5,413.51 446.5,413.43 447.5,412.02 448.5,411.04 449.5,412.92 450.5,412.35 451.5,413.3 452.5,414.34 453.5,414.34 454.5,413.17 455.5,413.88 456.5,414.34 457.5,412.96 458.5,413.15 459.5,413.66 460.5,412.89 461.5,412.49 462.5,412.27 463.5,412.93 464.5,412.39 465.5,413.61 466.5,412.64 467.5,414.18 468.5,413.97 469.5,411.86 470.5,413.86 471.5,412.58 472.5,414.11 473.5,413.37 474.5,412.89 475.5,413.51 476.5,412.45 477.5,413.21 478.5,413.26 479.5,412.8 480.5,413.26 481.5,412.07 482.5,413.41 483.5,411.89 484.5,413.47 485.5,413.34 486.5,413.54 487.5,412.46 488.5,415.54 489.5,412.74 490.5,413.07 491.5,412.29 492.5,414.17 493.5,412.54 494.5,413.79 495.5,412.13 496.5,413.21 497.5,412.63 498.5,413.74 499.5,412.7 500.5,412.21 501.5,413.33 502.5,411.93 503.5,412.13 504.5,413.61 505.5,411.35 506.5,413.6 507.5,412.61 508.5,412.17 509.5,413.16 510.5,413.49 511.5,412.46 512.5,412.8 513.5,413.64 514.5,413.6 515.5,412.91 516.5,412.3 517.5,412.15 518.5,412.45 519.5,413.54 520.5,413.45 521.5,413.22 522.5,414.15 523.5,412.71 524.5,412.64 525.5,412.64 526.5,414.59 527.5,411.22 528.5,413.21 529.5,413.35 530.5,413.02 531.5,414.95 532.5,413.97 533.5,413.63 534.5,412.21 535.5,413.4 536.5,412.66 537.5,413.01 538.5,413.14 539.5,412.57 540.5,413.51 541.5,414.36 542.5,413.86 543.5,413.16 544.5,411.34 545.5,413.9 546.5,413.89 547.5,412.82 548.5,412.58 549.5,413.54 550.5,412.3 551.5,413.66 552.5,412.07 553.5,412.21 554.5,413 555.5,411.75 556.5,412.99 557.5,413.44 558.5,411.87 559.5,413.77 560.5,412.51 561.5,413.45 562.5,413.17 563.5,412.6 564.5,412.55 565.5,411.55 566.5,412.4 567.5,412.34 568.5,414.38 569.5,413.85 570.5,411.83 571.5,413.67 572.5,413.18 573.5,412.67 574.5,413.38 575.5,413.66 576.5,412.51 577.5,412.76 578.5,413.13 579.5,412.16 580.5,413.15 581.5,412.93 582.5,412.42 583.5,412.29 584.5,413.25 585.5,413.73 586.5,413.27 587.5,412.27 588.5,413.63 589.5,413.14 590.5,413.5 591.5,413.98 592.5,412.24 593.5,412.88 594.5,412.49 595.5,412.26 596.5,414.69 597.5,413.79 598.5,411.51 599.5,413.36 600.5,412.53 601.5,413.96 602.5,413.07 603.5,412.85 604.5,413.12 605.5,413.32 606.5,413.02 607.5,412.81 608.5,412.88 609.5,413.43 610.5,412.05 611.5,413 612.5,412.9 613.5,412.59 614.5,413.62 615.5,411.91 616.5,412.69 617.5,412.28 618.5,413.46 619.5,412.61 620.5,413.04 621.5,413.32 622.5,411.66 623.5,413.38 624.5,412.37 625.5,412.79 626.5,412.9 627.5,413.68 628.5,413.62 629.5,414.48 630.5,413.15 631.5,412.6 632.5,412.58 633.5,413.55 634.5,414.35 635.5,413.29 636.5,412.52 637.5,413.23 638.5,413.21 639.5,413.03 640.5,412.38 641.5,410.87 642.5,412.55 643.5,413.88 644.5,413.18 645.5,411.14 646.5,413 647.5,411.45 648.5,414.67 649.5,413.16 650.5,411.99 651.5,413.67 652.5,412.34 653.5,413.47 654.5,413.02 655.5,412.01 656.5,413.56 657.5,411.87 658.5,414.13 659.5,413.05 660.5,412.14 661.5,411.48 662.5,414.36 663.5,414.22 664.5,411.94 665.5,414.38 666.5,413.14 667.5,412.81 668.5,412.93 669.5,412.77 670.5,414.2 671.5,413.13 672.5,411.45 673.5,414.76 674.5,413.74 675.5,412.08 676.5,412.7 677.5,412.24 678.5,413.04 679.5,413.33 680.5,413.2 681.5,412.5 682.5,412.33 683.5,413.71 684.5,412.92 685.5,414.89 686.5,412.32 687.5,413.66 688.5,413.04 689.5,412.36 690.5,414.15 691.5,413.1 692.5,412.25 693.5,412.73 694.5,413.86 695.5,411.97 696.5,414.16 697.5,413.58 698.5,412.77 699.5,414.14 700.5,414.47 701.5,413.5 702.5,413.14 703.5,414.55 704.5,414.26 705.5,412.22 706.5,412.83 707.5,412.82 708.5,412.65 709.5,411.74 710.5,413.76 711.5,413.07 712.5,413.08 713.5,414.19 714.5,412.52 715.5,412.95 716.5,413.23 717.5,412.64 718.5,412.91 719.5,413.65 720.5,412.99 721.5,414.12 722.5,412.37 723.5,413.17 724.5,411.79 725.5,412.9 726.5,412.41 727.5,414.15 728.5,413.63 729.5,413.43 730.5,414.56 731.5,414.22 732.5,413.61 733.5,412.42 734.5,411.78 735.5,412.97 736.5,412.7 737.5,412.45 738.5,412.75 739.5,411.6 740.5,414.26 741.5,412.03 742.5,412.43 743.5,413.48 744.5,411.62 745.5,413.78 746.5,413.8 747.5,412.73 748.5,412.09 749.5,412.6 750.5,411.43 751.5,414.18 752.5,413.05 753.5,412.37 754.5,412.23 755.5,413.49 756.5,414.28 757.5,411.92 758.5,412.51 759.5,411.5 760.5,413.57 761.5,413.13 762.5,414.92 763.5,412.9 764.5,412.63 765.5,412.4 766.5,413.73 767.5,411.61 768.5,413.64 769.5,413.21 770.5,412.57 771.5,412.23 772.5,413.9 773.5,414.59 774.5,412.62 775.5,413.45 776.5,414.49 777.5,412.47 778.5,412.79 779.5,411.96 780.5,412.87 781.5,412.93 782.5,412.64 783.5,412.37 784.5,411.65 785.5,411.85 786.5,412.17 787.5,413.55 788.5,412.56 789.5,412.27 790.5,413.56 791.5,413.48 792.5,412.35 793.5,412.46 794.5,413.57 795.5,413.31 796.5,412.28 797.5,413.21 798.5,412.97 799.5,413.95 800.5,412.26 801.5,413.76 802.5,413.37 803.5,412.14 804.5,413.9 805.5,413.78 806.5,411.87 807.5,414.7 808.5,412.02 809.5,412.21 810.5,412.72 811.5,413.66 812.5,413.5 813.5,412.92 814.5,414.17 815.5,413.35 816.5,414.2 817.5,415.42 818.5,413.17 819.5,410.78 820.5,412.61 821.5,412.07 822.5,413.08 823.5,413.08 824.5,411.94 825.5,412 826.5,412.77 827.5,412.83 828.5,410.75 829.5,413.84 830.5,413.03 831.5,412.99 832.5,413.26 833.5,412.11 834.5,412.96 835.5,413.9 836.5,413.93 837.5,413.4 838.5,412.76 839.5,412.29 840.5,414.15 841.5,413.46 842.5,412.63 843.5,411.11 844.5,412.24 845.5,411.32 846.5,414.09 847.5,413.16 848.5,412.35 849.5,412.76 850.5,415.27 851.5,414.06 852.5,411.82 853.5,412.89 854.5,411.92 855.5,411.49 856.5,413.15 857.5,415.12 858.5,414.37 859.5,413.04 860.5,412.67 861.5,413.18 862.5,413.91 863.5,411.71 864.5,411.35 865.5,414.66 866.5,413.25 867.5,414.42 868.5,413.21 869.5,414.31 870.5,412.46 871.5,413.44 872.5,414.37 873.5,413.9 874.5,412.59 875.5,413.79 876.5,412.41 877.5,411.73 878.5,413.46 879.5,414.24 880.5,413.75 881.5,411.88 882.5,413.77 883.5,413.6 884.5,412.59 885.5,410.79 886.5,413.9 887.5,413.79 888.5,413.44 889.5,411.46 890.5,411.67 891.5,413.9 892.5,413.72 893.5,413.44 894.5,412.78 895.5,413.35 896.5,412.52 897.5,412.72 898.5,412.23 899.5,413.23 900.5,412.63 901.5,413.85 902.5,413.64 903.5,412.27 904.5,414.64 905.5,412 906.5,413.4 907.5,413.97 908.5,414.15 909.5,411.02 910.5,413.9 911.5,414.09 912.5,414.29 913.5,411 914.5,412.39 915.5,412.91 916.5,412.6 917.5,414.2 918.5,412.39 919.5,414.1 920.5,413.5 921.5,411.69 922.5,412.11 923.5,412.58 924.5,413.09 925.5,413.89 926.5,412.84 927.5,413.82 928.5,411.58 929.5,410.26 930.5,412.7 931.5,413.41 932.5,412.67 933.5,412.09 934.5,413.38 935.5,414.74 936.5,412.91 937.5,412.35 938.5,412.24 939.5,414.77 940.5,412.96 941.5,413.55 942.5,414.1 943.5,413.97 944.5,412.17 945.5,413.86 946.5,413.76 947.5,413.44 948.5,413.91 949.5,412.49 950.5,412.93 951.5,412.53 952.5,413.68 953.5,412.41 954.5,413.35 955.5,412.02 956.5,412.89 957.5,412.67 958.5,412.9 959.5,413.12 960.5,412.83 961.5,412.8 962.5,411.14 963.5,413.99 964.5,412.44 965.5,412.78 966.5,412.26 967.5,413.9 968.5,412.19 969.5,413.45 970.5,414.06 971.5,414.48 972.5,414.07 973.5,413.56 974.5,411.92 975.5,414.16 976.5,414.07 977.5,413.76 978.5,413.72 979.5,413.07 980.5,412.54 981.5,413.98 982.5,414.15 983.5,412.07 984.5,413.83 985.5,413.23 986.5,413.8 987.5,413.25 988.5,414.01 989.5,413.93 990.5,413.81 991.5,411.77 992.5,413.75 993.5,413.06 994.5,412 995.5,413.65 996.5,411.79 997.5,413.81 998.5,414.53 999.5,412.56 999.5,427.31 998.5,425.11 997.5,426.46 996.5,425.28 995.5,426.32 994.5,426.93 993.5,425.89 992.5,426.37 991.5,426.96 990.5,426.59 989.5,424.81 988.5,426.04 987.5,426.9 986.5,426.59 985.5,425.57 984.5,424.67 983.5,424.87 982.5,427.4 981.5,428.25 980.5,425.41 979.5,425.71 978.5,426.92 977.5,426.69 976.5,425.98 975.5,425.91 974.5,428.16 973.5,428.52 972.5,425.97 971.5,425.95 970.5,425.34 969.5,425.98 968.5,426.73 967.5,426.58 966.5,426.35 965.5,427.01 964.5,423.99 963.5,426.25 962.5,426.59 961.5,424.09 960.5,426.28 959.5,426.16 958.5,425.61 957.5,426.65 956.5,426.01 955.5,426.87 954.5,425.51 953.5,427.52 952.5,426.58 951.5,424.01 950.5,425.08 949.5,425.78 948.5,426.15 947.5,426.29 946.5,426.07 945.5,426.79 944.5,425.83 943.5,427.55 942.5,427.89 941.5,426.55 940.5,426.39 939.5,426.31 938.5,426.55 937.5,426.59 936.5,425.84 935.5,426.03 934.5,425.63 933.5,425.96 932.5,426.63 931.5,427.15 930.5,426.88 929.5,426.24 928.5,426.57 927.5,427.42 926.5,426.58 925.5,427.22 924.5,426.12 923.5,427.08 922.5,426.53 921.5,425.06 920.5,427.13 919.5,427.1 918.5,424.53 917.5,426.23 916.5,426.49 915.5,425.09 914.5,426.03 913.5,424.67 912.5,425.72 911.5,424.97 910.5,426.58 909.5,427.2 908.5,427.14 907.5,427.42 906.5,427.08 905.5,425.4 904.5,425.13 903.5,426.59 902.5,428.35 901.5,426.75 900.5,426.86 899.5,426.75 898.5,427.32 897.5,427.04 896.5,424.75 895.5,426.15 894.5,425.73 893.5,426.68 892.5,426.14 891.5,426.08 890.5,426.81 889.5,427.42 888.5,425.59 887.5,425.51 886.5,425.08 885.5,426.23 884.5,426.09 883.5,425.56 882.5,424.66 881.5,427.06 880.5,426.99 879.5,428.16 878.5,428.49 877.5,426.62 876.5,427.03 875.5,425.31 874.5,424.73 873.5,427.65 872.5,425.01 871.5,425.52 870.5,424.8 869.5,427.26 868.5,425.49 867.5,427.23 866.5,425.64 865.5,426.14 864.5,426.97 863.5,426.65 862.5,427.51 861.5,424.89 860.5,425.7 859.5,426.85 858.5,427.85 857.5,424.27 856.5,427.68 855.5,426.62 854.5,423.99 853.5,426.54 852.5,425.77 851.5,427.25 850.5,424.8 849.5,426.42 848.5,426.24 847.5,426.27 846.5,426.25 845.5,427.5 844.5,427.75 843.5,425.63 842.5,425 841.5,426.48 840.5,427.1 839.5,426.45 838.5,426.53 837.5,425.57 836.5,426.15 835.5,425.87 834.5,428.04 833.5,428.99 832.5,426.59 831.5,427.53 830.5,425.55 829.5,427.28 828.5,427.66 827.5,425.35 826.5,426.08 825.5,427.41 824.5,425.62 823.5,426.49 822.5,425.81 821.5,428.15 820.5,427.33 819.5,425.97 818.5,428.32 817.5,425.74 816.5,426.6 815.5,426.85 814.5,426.28 813.5,426.4 812.5,427.16 811.5,424.42 810.5,426.17 809.5,425.86 808.5,426.74 807.5,425.64 806.5,425.74 805.5,427.14 804.5,425.93 803.5,426.62 802.5,426.57 801.5,426.5 800.5,426.54 799.5,427.58 798.5,428.15 797.5,427.29 796.5,427.02 795.5,426.33 794.5,427.39 793.5,427.5 792.5,426.93 791.5,425.16 790.5,426.31 789.5,426.39 788.5,426.82 787.5,424.13 786.5,427.46 785.5,426.86 784.5,426.77 783.5,427.11 782.5,426.17 781.5,425.68 780.5,426.07 779.5,424.83 778.5,426.21 777.5,425.85 776.5,426.68 775.5,426.66 774.5,426.55 773.5,427.04 772.5,426.71 771.5,425.79 770.5,426.69 769.5,425.01 768.5,428.41 767.5,426.19 766.5,425.8 765.5,425.37 764.5,427.29 763.5,426.24 762.5,426.51 761.5,424.98 760.5,426.78 759.5,425.33 758.5,426.29 757.5,425.52 756.5,428.09 755.5,423.93 754.5,425.78 753.5,426.06 752.5,426.55 751.5,425.16 750.5,425.29 749.5,425.68 748.5,426.1 747.5,425.35 746.5,427.1 745.5,426.57 744.5,424.88 743.5,425.31 742.5,427.41 741.5,427.21 740.5,424.72 739.5,426.28 738.5,428.38 737.5,427.04 736.5,427.38 735.5,426.01 734.5,424.85 733.5,425.79 732.5,426.2 731.5,426.6 730.5,427.32 729.5,427.03 728.5,426.54 727.5,426.4 726.5,424.26 725.5,425.67 724.5,426.79 723.5,425.48 722.5,426.11 721.5,426.87 720.5,425.07 719.5,425.08 718.5,428.62 717.5,427.86 716.5,426.89 715.5,425.57 714.5,427.85 713.5,427.79 712.5,427.18 711.5,427.64 710.5,426.19 709.5,425.6 708.5,426 707.5,425.72 706.5,425.94 705.5,427.53 704.5,425.27 703.5,426.45 702.5,426.32 701.5,427.57 700.5,426.76 699.5,425.81 698.5,426.79 697.5,427.27 696.5,426.9 695.5,426.85 694.5,427.11 693.5,424.68 692.5,426.78 691.5,424.38 690.5,427.78 689.5,426.97 688.5,426.67 687.5,425.74 686.5,426.91 685.5,427.82 684.5,427.25 683.5,426.85 682.5,425.76 681.5,426.33 680.5,425.62 679.5,427.06 678.5,426.17 677.5,424.88 676.5,427.46 675.5,426.49 674.5,426.69 673.5,426.67 672.5,426.9 671.5,427.32 670.5,427.12 669.5,428.53 668.5,427.37 667.5,426.39 666.5,427.47 665.5,426.21 664.5,426.5 663.5,427.36 662.5,426.82 661.5,423.88 660.5,426.42 659.5,425.52 658.5,425.9 657.5,427.14 656.5,426.78 655.5,427.79 654.5,426.88 653.5,427.3 652.5,426.12 651.5,426.09 650.5,427.64 649.5,426.54 648.5,426.32 647.5,427.14 646.5,427.43 645.5,425.81 644.5,426.27 643.5,425.92 642.5,424.7 641.5,427.57 640.5,427.38 639.5,427.04 638.5,426.96 637.5,426.72 636.5,426 635.5,425.84 634.5,426.34 633.5,426.37 632.5,426.82 631.5,426.53 630.5,426.02 629.5,424.82 628.5,427.06 627.5,425.81 626.5,428.47 625.5,427.16 624.5,427.18 623.5,425.35 622.5,426.94 621.5,426.11 620.5,425.14 619.5,426.17 618.5,427.73 617.5,425.94 616.5,426.45 615.5,427.1 614.5,426.22 613.5,427.02 612.5,426.02 611.5,428.03 610.5,426.04 609.5,425.01 608.5,427.37 607.5,424.08 606.5,425.59 605.5,425.91 604.5,426.59 603.5,427.08 602.5,426.4 601.5,426.7 600.5,425.28 599.5,427.38 598.5,426.58 597.5,426.15 596.5,426.39 595.5,429.64 594.5,425.38 593.5,425.24 592.5,427.45 591.5,426.83 590.5,427.35 589.5,426.23 588.5,426.17 587.5,428.41 586.5,425.75 585.5,425.62 584.5,425.86 583.5,426.47 582.5,426.61 581.5,425.19 580.5,426.93 579.5,425.28 578.5,426.57 577.5,427.08 576.5,427.34 575.5,425.93 574.5,426.31 573.5,426.14 572.5,425.85 571.5,426.31 570.5,426.95 569.5,426.05 568.5,426.45 567.5,425.67 566.5,426.42 565.5,425.96 564.5,427.78 563.5,426.54 562.5,426.72 561.5,428.99 560.5,425.82 559.5,426.91 558.5,426.65 557.5,427.96 556.5,427.05 555.5,427.65 554.5,427.47 553.5,426.84 552.5,428.62 551.5,427.01 550.5,426.05 549.5,427.44 548.5,427.4 547.5,429.02 546.5,426.51 545.5,426.18 544.5,426.75 543.5,427.36 542.5,426.54 541.5,427.31 540.5,427.83 539.5,425.59 538.5,426.23 537.5,426.54 536.5,426.28 535.5,425.97 534.5,425.84 533.5,425.53 532.5,426.24 531.5,426.84 530.5,425.43 529.5,426.48 528.5,425.72 527.5,425.73 526.5,426.4 525.5,426.04 524.5,426.52 523.5,426.31 522.5,425.72 521.5,427 520.5,427.15 519.5,426.2 518.5,425.89 517.5,426.28 516.5,425.66 515.5,428.11 514.5,426.06 513.5,426.81 512.5,428.68 511.5,426.37 510.5,425.5 509.5,426.5 508.5,426.93 507.5,424.15 506.5,426.1 505.5,426.05 504.5,426.13 503.5,426.33 502.5,426.45 501.5,427.97 500.5,425.15 499.5,428.05 498.5,427.35 497.5,427.23 496.5,426.11 495.5,428.31 494.5,426.18 493.5,426.86 492.5,424.84 491.5,425.96 490.5,426.11 489.5,428.27 488.5,426.38 487.5,426.32 486.5,427.16 485.5,427.08 484.5,426.27 483.5,425.92 482.5,427.63 481.5,426.56 480.5,425.72 479.5,424.48 478.5,424.74 477.5,425.82 476.5,426.04 475.5,425.8 474.5,425.88 473.5,426.73 472.5,425.86 471.5,428.38 470.5,427.62 469.5,426.57 468.5,426.06 467.5,427.9 466.5,426.56 465.5,425.49 464.5,426.4 463.5,425.9 462.5,426.61 461.5,427.72 460.5,425.09 459.5,424.35 458.5,428.66 457.5,426.52 456.5,425.05 455.5,427.86 454.5,424.37 453.5,428.07 452.5,425.08 451.5,425.76 450.5,426.36 449.5,425.29 448.5,427.73 447.5,425.64 446.5,426.37 445.5,425.55 444.5,425.88 443.5,426.68 442.5,425.81 441.5,426.43 440.5,426.39 439.5,428.3 438.5,425.8 437.5,426.63 436.5,424.67 435.5,425.95 434.5,427.73 433.5,426.78 432.5,425.34 431.5,426.85 430.5,427.21 429.5,426.35 428.5,427.64 427.5,427.19 426.5,425.9 425.5,426.94 424.5,426.65 423.5,427.41 422.5,426.6 421.5,427.78 420.5,427.1 419.5,426.69 418.5,427.51 417.5,426.43 416.5,427.15 415.5,426.55 414.5,427.02 413.5,425.07 412.5,427.06 411.5,426.87 410.5,427.33"/>
<polyline fill="none" stroke="#161616" stroke-width="1.0" stroke-linejoin="bevel" points="410.5,418.97 410.75,424.01 411,421.44 411.25,418.21 411.5,423.18 411.75,421.15 412,419.67 412.25,420.51 412.5,420.28 412.75,417.71 413,417.15 413.25,419.12 413.5,414.9 413.75,413.49 414,423.35 414.25,416.61 414.5,416.07 414.75,412.84 415,404.67 415.25,413.26 415.5,416.48 415.75,414.7 416,422.15 416.25,416.14 416.5,423.56 416.75,411.44 417,415.17 417.25,424.02 417.5,419.26 417.75,417.1 418,421.66 418.25,415.55 418.5,420.38 418.75,410.48 419,418.07 419.25,417.19 419.5,422.28 419.75,423.68 420,416.18 420.25,426.66 420.5,417.15 420.75,410.83 421,409.37 421.25,425.53 421.5,418.42 421.75,415.66 422,414.5 422.25,411.94 422.5,415.92 422.75,403.2 423,413.64 423.25,413.97 423.5,408.12 423.75,421.14 424,416.99 424.25,417.91 424.5,425.75 424.75,418.26 425,424.47 425.25,419.6 425.5,416.47 425.75,421.97 426,417.23 426.25,425.21 426.5,424.09 426.75,420.22 427,422.64 427.25,422.47 427.5,418.83 427.75,423.96 428,419.08 428.25,422.78 428.5,415.95 428.75,420.57 429,421.95 429.25,416.7 429.5,418.35 429.75,417.85 430,423.38 430.25,417.02 430.5,422.06 430.75,426.79 431,421.64 431.25,412.99 431.5,420.57 431.75,424.55 432,418.71 432.25,424.79 432.5,422.61 432.75,421.71 433,418.69 433.25,417.56 433.5,418.65 433.75,420.01 434,422 434.25,421.51 434.5,418.32 434.75,419.89 435,421.27 435.25,412.42 435.5,416.14 435.75,415.97 436,418.55 436.25,418.27 436.5,418.38 436.75,415.72 437,422.52 437.25,420.83 437.5,412.45 437.75,419.73 438,414.78 438.25,427.19 438.5,417.78 438.75,418.08 439,420.2 439.25,418.99 439.5,419.64 439.75,426.69 440,420.94 440.25,423.63 440.5,424.94 440.75,415.79 441,427.44 441.25,423.1 441.5,424.3 441.75,416.38 442,423.73 442.25,421.91 442.5,417.71 442.75,429.9 443,422.37 443.25,418.8 443.5,420.61 443.75,423.64 444,424.51 444.25,422.05 444.5,424.69 444.75,425.67 445,413.98 445.25,417.08 445.5,415.04 445.75,419.28 446,424.69 446.25,421.13 446.5,413.96 446.75,416.57 447,420.73 447.25,414.09 447.5,412.89 447.75,409.78 448,409.38 448.25,418.46 448.5,417.83 448.75,419.04 449,413.06 449.25,413.69 449.5,413.96 449.75,416.54 450,414.59 450.25,412.53 450.5,412.95 450.75,399.44 451,392.45 451.25,404.31 451.5,416.89 451.75,412.28 452,419.71 452.25,420.97 452.5,412.63 452.75,412.83 453,412.25 453.25,405.43 453.5,396.98 453.75,386.41 454,406.02 454.25,408.73 454.5,412.37 454.75,412.8 455,410.05 455.25,420.57 455.5,406.36 455.75,410.8 456,409.73 456.25,401.69 456.5,412.46 456.75,418.15 457,412.28 457.25,417.04 457.5,412.24 457.75,418.99 458,417.42 458.25,418.01 458.5,422.81 458.75,419.04 459,422.62 459.25,419.52 459.5,411.7 459.75,417.6 460,418.27 460.25,410.1 460.5,421.04 460.75,415.4 461,415.68 461.25,409.7 461.5,410.32 461.75,404.33 462,400.88 462.25,408.56 462.5,403.57 462.75,416.36 463,406.85 463.25,401.53 463.5,403.88 463.75,400.31 464,397.53 464.25,377.52 464.5,341.21 464.75,350.8 465,390.92 465.25,399.68 465.5,411.82 465.75,404.3 466,412.93 466.25,407.64 466.5,414.05 466.75,414 467,404.01 467.25,402.97 467.5,396.92 467.75,381.63 468,377.48 468.25,396.07 468.5,402.07 468.75,411.64 469,415.83 469.25,409.83 469.5,413.89 469.75,416.96 470,416.48 470.25,414.9 470.5,421.67 470.75,422.1 471,421.62 471.25,417.99 471.5,427.63 471.75,426.73 472,417.58 472.25,418.85 472.5,424.57 472.75,415.96 473,421.19 473.25,419.67 473.5,416.42 473.75,418.48 474,412.63 474.25,417.12 474.5,410.77 474.75,429.43 475,426.05 475.25,424.83 475.5,420.77 475.75,423.8 476,424.98 476.25,423.84 476.5,423.4 476.75,415.37 477,421.22 477.25,416.99 477.5,414.14 477.75,414.29 478,421.13 478.25,423.89 478.5,413.31 478.75,426.97 479,425.78 479.25,417.7 479.5,417.36 479.75,419.08 480,423.72 480.25,417.76 480.5,414.61 480.75,420.98 481,410.44 481.25,420.13 481.5,424.61 481.75,420.89 482,422.99 482.25,421.75 482.5,422.79 482.75,420.25 483,416 483.25,418.67 483.5,419.35 483.75,425.2 484,426.83 484.25,421.5 484.5,416.32 484.75,416.37 485,418.71 485.25,425.58 485.5,420.91 485.75,419.16 486,416.01 486.25,423.19 486.5,420.54 486.75,419.01 487,419.64 487.25,426.54 487.5,418.4 487.75,426.46 488,424.46 488.25,419.2 488.5,422.8 488.75,418.34 489,415.21 489.25,417.62 489.5,414.77 489.75,420.95 490,418.72 490.25,421.22 490.5,422.44 490.75,407.44 491,420.33 491.25,411.15 491.5,419.85 491.75,415.35 492,419.72 492.25,425.32 492.5,411.94 492.75,420.32 493,419.22 493.25,411.36 493.5,422.55 493.75,419.93 494,417.63 494.25,416.77 494.5,431.43 494.75,418.35 495,412.27 495.25,416.14 495.5,418.68 495.75,418.67 496,420.07 496.25,415.81 496.5,422.7 496.75,418.19 497,414.34 497.25,416.67 497.5,418.5 497.75,423.82 498,422.18 498.25,418.56 498.5,420.05 498.75,420.82 499,428.61 499.25,417.07 499.5,421.63 499.75,422.61 500,415.3 500.25,419.97 500.5,419.62 500.75,416.67 501,420.52 501.25,421.71 501.5,421.02 501.75,414.39 502,412.88 502.25,411.88 502.5,389.62 502.75,406.67 503,414.63 503.25,414.73 503.5,417.52 503.75,415.83 504,416.84 504.25,415.39 504.5,404.7 504.75,407.45 505,412.77 505.25,414.02 505.5,416.65 505.75,413.01 506,420.9 506.25,425.14 506.5,425.38 506.75,423.73 507,414.45 507.25,424.77 507.5,415.38 507.75,417.98 508,425.52 508.25,413.27 508.5,420.31 508.75,417.05 509,413.63 509.25,407.92 509.5,401.58 509.75,402.98 510,414.64 510.25,419.07 510.5,411.12 510.75,415.33 511,416.64 511.25,413.45 511.5,413.93 511.75,419.15 512,418.04 512.25,412.04 512.5,416.8 512.75,421.3 513,414.05 513.25,415.24 513.5,425.69 513.75,424.43 514,412.25 514.25,413.23 514.5,419.63 514.75,413.23 515,415.26 515.25,411.81 515.5,412.11 515.75,408.32 516,409.57 516.25,413.41 516.5,422.49 516.75,418.12 517,411.87 517.25,421.03 517.5,421.98 517.75,418 518,417.62 518.25,420.8 518.5,423.94 518.75,419.38 519,420.77 519.25,418.1 519.5,416.36 519.75,413.7 520,417.44 520.25,413.89 520.5,411.44 520.75,408.52 521,389.77 521.25,408.35 521.5,407.12 521.75,416.45 522,413.49 522.25,412.93 522.5,412.23 522.75,415.11 523,403.97 523.25,410.85 523.5,412.04 523.75,417.32 524,416.36 524.25,425.33 524.5,413.07 524.75,411.72 525,418.45 525.25,419.72 525.5,420.36 525.75,423.12 526,428.88 526.25,418.54 526.5,417.68 526.75,412.43 527,421.07 527.25,423.71 527.5,418.88 527.75,425.11 528,420.1 528.25,426.52 528.5,421.37 528.75,415.3 529,417.1 529.25,413.17 529.5,412.25 529.75,420.93 530,423.51 530.25,428.19 530.5,419.41 530.75,418.57 531,414.73 531.25,423.78 531.5,421.12 531.75,416.78 532,422.27 532.25,421.61 532.5,410.98 532.75,422.14 533,419.36 533.25,416.91 533.5,416.58 533.75,425.5 534,424.16 534.25,424.78 534.5,411.68 534.75,412.67 535,417.03 535.25,406.13 535.5,402.3 535.75,387.21 536,387.82 536.25,405.64 536.5,411.05 536.75,413.65 537,413.02 537.25,414.18 537.5,419.09 537.75,414 538,422.53 538.25,415.52 538.5,414.1 538.75,423.6 539,417.55 539.25,420.69 539.5,416.6 539.75,408.76 540,420.92 540.25,412.8 540.5,423.36 540.75,412.02 541,410.71 541.25,420.13 541.5,420.67 541.75,419.31 542,413.64 542.25,422.66 542.5,412.59 542.75,416.82 543,415.4 543.25,417.01 543.5,421.86 543.75,415.52 544,419.56 544.25,418.68 544.5,409.31 544.75,406.61 545,411.35 545.25,413.79 545.5,418.39 545.75,410.57 546,421.54 546.25,422.04 546.5,418.49 546.75,413.52 547,419.54 547.25,417.32 547.5,422.16 547.75,419.43 548,423.03 548.25,418.06 548.5,426.27 548.75,410.04 549,415.69 549.25,422.3 549.5,413.63 549.75,423.47 550,415 550.25,420.7 550.5,416.29 550.75,418.35 551,421.02 551.25,419.79 551.5,418.57 551.75,429.63 552,420.24 552.25,415.95 552.5,424.23 552.75,423.74 553,425.49 553.25,427.94 553.5,415.99 553.75,424.72 554,425.05 554.25,420.05 554.5,421.1 554.75,408.57 555,417.47 555.25,427.77 555.5,412.12 555.75,417.57 556,421.14 556.25,422.36 556.5,426.94 556.75,412.09 557,419.93 557.25,423.45 557.5,413.93 557.75,419.43 558,427.75 558.25,425.21 558.5,421.76 558.75,408.04 559,418.69 559.25,420.81 559.5,417.69 559.75,418.56 560,429.68 560.25,417.42 560.5,413.89 560.75,418.23 561,415.01 561.25,413.35 561.5,410.77 561.75,404.33 562,400.33 562.25,406.47 562.5,413.48 562.75,417.76 563,415.2 563.25,422.49 563.5,421.48 563.75,414.37 564,420.15 564.25,427.47 564.5,425.82 564.75,418.99 565,423.21 565.25,416.49 565.5,413.19 565.75,421.95 566,420.67 566.25,421.88 566.5,419.58 566.75,421.16 567,417.54 567.25,421.88 567.5,423.49 567.75,419.63 568,423.47 568.25,412.18 568.5,416.47 568.75,426.21 569,427.59 569.25,420.98 569.5,419.42 569.75,414.32 570,421.45 570.25,423.25 570.5,413.36 570.75,422.27 571,421.95 571.25,421.72 571.5,414.86 571.75,422.14 572,413.22 572.25,426.23 572.5,420.31 572.75,414.63 573,425.54 573.25,424.69 573.5,416.82 573.75,429.19 574,415.24 574.25,420.94 574.5,424.68 574.75,409.78 575,423.82 575.25,419.21 575.5,419.37 575.75,414.82 576,420.6 576.25,414.52 576.5,414.91 576.75,416.54 577,413.14 577.25,418.91 577.5,408.96 577.75,413.22 578,416.19 578.25,418.27 578.5,421.92 578.75,422.45 579,418.08 579.25,417.87 579.5,419.74 579.75,423.17 580,422.71 580.25,417.48 580.5,410.8 580.75,428.89 581,423.72 581.25,420.7 581.5,420.98 581.75,417.2 582,415.06 582.25,417.9 582.5,418.32 582.75,416.51 583,412.84 583.25,417.74 583.5,421.52 583.75,416.81 584,418.97 584.25,409.84 584.5,417.8 584.75,418.07 585,413.22 585.25,410.95 585.5,419.98 585.75,414.61 586,419.9 586.25,415.89 586.5,419.92 586.75,415.56 587,410.36 587.25,414.77 587.5,411.87 587.75,409.93 588,395.38 588.25,407.34 588.5,415.62 588.75,419.08 589,418.75 589.25,420.4 589.5,418.28 589.75,419.38 590,419.26 590.25,416.39 590.5,413.12 590.75,408.72 591,395.37 591.25,408.49 591.5,412.36 591.75,413.99 592,416.4 592.25,418.26 592.5,413.09 592.75,409.82 593,419.6 593.25,411.73 593.5,419.82 593.75,419.44 594,423.91 594.25,426.25 594.5,420.72 594.75,416.8 595,414.17 595.25,415.89 595.5,419.56 595.75,410.44 596,419.82 596.25,419.49 596.5,422.4 596.75,418.17 597,420.12 597.25,416.5 597.5,417.73 597.75,412.05 598,420.36 598.25,426.56 598.5,420.48 598.75,421.34 599,415.42 599.25,425.92 599.5,416.29 599.75,423.1 600,420.03 600.25,415.33 600.5,423.94 600.75,419.47 601,420.13 601.25,421.25 601.5,419.11 601.75,417.47 602,421.04 602.25,417.14 602.5,419.05 602.75,415.71 603,411.97 603.25,415.24 603.5,415.69 603.75,417.43 604,421.78 604.25,408.95 604.5,415.34 604.75,404.18 605,405.95 605.25,402.55 605.5,386.48 605.75,360.06 606,384.33 606.25,400.98 606.5,407.73 606.75,408.9 607,423.04 607.25,415.07 607.5,413.07 607.75,424.48 608,420.47 608.25,416.61 608.5,423.62 608.75,419.38 609,421.66 609.25,420.04 609.5,414.67 609.75,423.47 610,420.03 610.25,415.03 610.5,416.19 610.75,423.77 611,418.07 611.25,419.96 611.5,422.68 611.75,420.45 612,413.27 612.25,422.8 612.5,424.17 612.75,423.91 613,427.25 613.25,421.82 613.5,423.68 613.75,427.29 614,419.1 614.25,428.03 614.5,428.07 614.75,423.95 615,428.63 615.25,424.34 615.5,416.79 615.75,425.68 616,422.17 616.25,422.5 616.5,421.32 616.75,426.55 617,422.96 617.25,417.43 617.5,422.56 617.75,423.58 618,417.14 618.25,418.37 618.5,418.54 618.75,417.5 619,421.64 619.25,424.52 619.5,428.31 619.75,425.19 620,424.38 620.25,424.86 620.5,425.65 620.75,418.08 621,422.72 621.25,421.04 621.5,419 621.75,417.52 622,417.24 622.25,418.3 622.5,414.07 622.75,421.79 623,419.42 623.25,419.99 623.5,421.03 623.75,422.73 624,416.97 624.25,419.11 624.5,412.54 624.75,409.87 625,411.11 625.25,426.37 625.5,411.63 625.75,421.72 626,426.14 626.25,417.67 626.5,426.83 626.75,427.79 627,423.85 627.25,430.11 627.5,422.46 627.75,416.55 628,422.04 628.25,417.8 628.5,414.01 628.75,414.11 629,429.78 629.25,417.28 629.5,419.52 629.75,416.7 630,420.18 630.25,418.51 630.5,417.74 630.75,414.21 631,413.31 631.25,416.2 631.5,420.68 631.75,428.4 632,423.91 632.25,427.21 632.5,421.35 632.75,418.81 633,413.4 633.25,419.08 633.5,409.76 633.75,417.61 634,425.75 634.25,420.07 634.5,423.29 634.75,416.71 635,412.33 635.25,415.68 635.5,415.47 635.75,420.76 636,421.66 636.25,409.37 636.5,404.49 636.75,396.6 637,407.49 637.25,408.61 637.5,414.44 637.75,415.54 638,414.33 638.25,407.25 638.5,407.72 638.75,408.48 639,418.77 639.25,413.02 639.5,416.45 639.75,416.15 640,415.86 640.25,414.08 640.5,411.23 640.75,426.08 641,419.95 641.25,420.07 641.5,427.94 641.75,418.61 642,421.43 642.25,419.18 642.5,424.16 642.75,421.23 643,420.4 643.25,417.95 643.5,420.11 643.75,423.6 644,410.25 644.25,417.75 644.5,416.11 644.75,415.45 645,409.38 645.25,410.41 645.5,412.82 645.75,416.3 646,416.13 646.25,411.91 646.5,416.99 646.75,411.33 647,415.12 647.25,417.81 647.5,419.16 647.75,419.43 648,418.61 648.25,428.42 648.5,421.07 648.75,413.89 649,416.5 649.25,416.28 649.5,418.34 649.75,416.46 650,415.33 650.25,426.2 650.5,419.18 650.75,417.48 651,417.81 651.25,417.93 651.5,424.91 651.75,420.88 652,423.65 652.25,407.18 652.5,420.12 652.75,423.29 653,427.25 653.25,418.73 653.5,411.08 653.75,421.09 654,415.87 654.25,410.63 654.5,415.68 654.75,422.9 655,423.45 655.25,421.27 655.5,413.5 655.75,428.8 656,412.72 656.25,417.25 656.5,411.16 656.75,422.67 657,418.54 657.25,419.84 657.5,415.71 657.75,413.91 658,413.08 658.25,402.41 658.5,407.19 658.75,393.97 659,357.28 659.25,391.79 659.5,405.14 659.75,415.73 660,414.71 660.25,415.06 660.5,414 660.75,410.65 661,415.06 661.25,418.37 661.5,417.36 661.75,419.07 662,422.22 662.25,421.1 662.5,420.61 662.75,422.43 663,420.56 663.25,419.76 663.5,422.07 663.75,412.64 664,425.73 664.25,414.66 664.5,423.91 664.75,420.3 665,425.06 665.25,420.37 665.5,416.08 665.75,424.84 666,420.94 666.25,420.62 666.5,420.43 666.75,424.39 667,423.56 667.25,420.96 667.5,413.19 667.75,418.12 668,420.27 668.25,427.51 668.5,421.35 668.75,419.22 669,424.64 669.25,418.94 669.5,419.16 669.75,419.75 670,412.68 670.25,422.38 670.5,419.67 670.75,416.1 671,411.8 671.25,411.29 671.5,411.18 671.75,412.91 672,413.24 672.25,419.66 672.5,412.33 672.75,410.01 673,417.5 673.25,416.63 673.5,418.5 673.75,417.43 674,421.27 674.25,418.97 674.5,417.41 674.75,418.05 675,422.73 675.25,424.13 675.5,423.89 675.75,422.98 676,408.75 676.25,415.69 676.5,418.41 676.75,420.3 677,412.77 677.25,423.77 677.5,418.41 677.75,413.56 678,408.55 678.25,414.18 678.5,414.78 678.75,420.18 679,417.06 679.25,413.42 679.5,416.67 679.75,418.88 680,414.85 680.25,424.69 680.5,414.72 680.75,426.69 681,422.92 681.25,415 681.5,419.31 681.75,423.4 682,417.25 682.25,412.58 682.5,416.97 682.75,422.58 683,407.07 683.25,408.37 683.5,393.01 683.75,396.84 684,407.08 684.25,411.86 684.5,419.43 684.75,419.2 685,413.56 685.25,424.74 685.5,413.14 685.75,421.72 686,419.89 686.25,424.41 686.5,420.92 686.75,424.05 687,419.45 687.25,423.84 687.5,421.17 687.75,429.06 688,416.73 688.25,425 688.5,421.86 688.75,420.64 689,417.43 689.25,421.89 689.5,413.53 689.75,414.01 690,423.13 690.25,413.24 690.5,426.34 690.75,418.88 691,421.19 691.25,420.45 691.5,421.98 691.75,418.93 692,418.56 692.25,419.64 692.5,424.8 692.75,425.18 693,425.81 693.25,421.85 693.5,419.38 693.75,412.92 694,423.11 694.25,423.97 694.5,418.53 694.75,423.83 695,425.94 695.25,420.71 695.5,424.92 695.75,421.64 696,412.69 696.25,418.22 696.5,418.49 696.75,422.6 697,416.5 697.25,418.36 697.5,416.06 697.75,420.1 698,420.57 698.25,424.53 698.5,423.74 698.75,420.97 699,421.29 699.25,420.7 699.5,420.71 699.75,426.98 700,409.31 700.25,419.36 700.5,421.44 700.75,424.95 701,415.15 701.25,421.38 701.5,423.56 701.75,417.77 702,411.3 702.25,417.99 702.5,414.23 702.75,422.21 703,415.56 703.25,426.92 703.5,419.66 703.75,415.41 704,416.57 704.25,413.85 704.5,420.08 704.75,424.6 705,416.95 705.25,421.51 705.5,413.08 705.75,417.87 706,425.57 706.25,409.06 706.5,418.68 706.75,416.27 707,400.96 707.25,397.17 707.5,387.71 707.75,364.82 708,352.55 708.25,386.69 708.5,403.3 708.75,408.06 709,412.32 709.25,412.46 709.5,419.96 709.75,413.1 710,424.17 710.25,416.23 710.5,414.69 710.75,421.13 711,420.52 711.25,410.36 711.5,419.79 711.75,413.19 712,415.35 712.25,421.79 712.5,414.6 712.75,418.8 713,414.79 713.25,420.64 713.5,409.28 713.75,396.73 714,403.85 714.25,409.71 714.5,415.86 714.75,416.83 715,421.57 715.25,418.85 715.5,419.02 715.75,420.05 716,418.26 716.25,420.14 716.5,422.29 716.75,422.32 717,416.62 717.25,411.34 717.5,415.45 717.75,420.12 718,408.12 718.25,416.84 718.5,420.85 718.75,416.5 719,414.12 719.25,426.45 719.5,424.83 719.75,417.74 720,424.4 720.25,424.15 720.5,413.75 720.75,428.82 721,414.03 721.25,416.17 721.5,412.02 721.75,414.43 722,406.47 722.25,398.9 722.5,409.29 722.75,413.64 723,414.67 723.25,423.05 723.5,414.26 723.75,422.38 724,417.49 724.25,419.94 724.5,419.38 724.75,419.96 725,419.32 725.25,416.31 725.5,417.32 725.75,421.72 726,419.42 726.25,414.96 726.5,416.95 726.75,417.03 727,419.74 727.25,420.69 727.5,420.25 727.75,417.03 728,419.6 728.25,413.7 728.5,408.35 728.75,417.23 729,410.15 729.25,408.09 729.5,406.22 729.75,416.32 730,413 730.25,419.5 730.5,417.16 730.75,414.42 731,413.12 731.25,421.53 731.5,421.18 731.75,422.66 732,426.81 732.25,420.02 732.5,419.55 732.75,417.17 733,416.88 733.25,413.16 733.5,407.67 733.75,404.49 734,395.04 734.25,409.78 734.5,415.18 734.75,416.44 735,413.27 735.25,417.04 735.5,416.36 735.75,414.04 736,418.55 736.25,417.23 736.5,416.77 736.75,422.22 737,414.82 737.25,421.4 737.5,416.94 737.75,421.52 738,420.04 738.25,420.86 738.5,415.61 738.75,416.55 739,416.25 739.25,420.8 739.5,423.35 739.75,424.85 740,418 740.25,420.61 740.5,413.22 740.75,410.64 741,416.59 741.25,417.5 741.5,413.67 741.75,412.72 742,422.87 742.25,416.98 742.5,413.09 742.75,430.55 743,421.1 743.25,418.91 743.5,423.21 743.75,416.87 744,427.09 744.25,413.37 744.5,414.33 744.75,419.39 745,416.6 745.25,426.06 745.5,412.83 745.75,416.59 746,420.78 746.25,422.15 746.5,424.02 746.75,421.09 747,429.17 747.25,417.41 747.5,420.2 747.75,423.12 748,417.94 748.25,418.06 748.5,417.34 748.75,416.57 749,414.47 749.25,417 749.5,412.67 749.75,421.13 750,412.53 750.25,428.54 750.5,426.96 750.75,424.38 751,418.65 751.25,417.02 751.5,424.96 751.75,420.42 752,422.1 752.25,416.53 752.5,424.36 752.75,416.22 753,420.2 753.25,412.19 753.5,416.91 753.75,421.99 754,417.85 754.25,417.85 754.5,423.23 754.75,419.45 755,425.18 755.25,409.18 755.5,422.2 755.75,421.92 756,412.94 756.25,414 756.5,423.49 756.75,414.98 757,416.84 757.25,422.21 757.5,418.14 757.75,421.65 758,415.76 758.25,420.83 758.5,424.23 758.75,420.91 759,409.91 759.25,422.29 759.5,419.69 759.75,415.47 760,425.46 760.25,411.8 760.5,427.54 760.75,416.64 761,426.23 761.25,419.19 761.5,413.6 761.75,419.78 762,420.79 762.25,421.68 762.5,423.9 762.75,415.42 763,421.37 763.25,422.38 763.5,417.99 763.75,415.09 764,414.93 764.25,422.04 764.5,422.06 764.75,415.02 765,412.65 765.25,422.61 765.5,410.84 765.75,416.15 766,410.52 766.25,403.73 766.5,393.41 766.75,407.44 767,417.49 767.25,423.09 767.5,415.47 767.75,420.23 768,419.99 768.25,413.92 768.5,411.33 768.75,410.92 769,413.61 769.25,416.35 769.5,416.27 769.75,417.34 770,415.73 770.25,421.44 770.5,423.72 770.75,417 771,412.78 771.25,418.88 771.5,412.33 771.75,415.96 772,423.99 772.25,428.73 772.5,420.37 772.75,414.17 773,422.16 773.25,409.07 773.5,415.8 773.75,425.43 774,422.07 774.25,412.84 774.5,411.62 774.75,422.57 775,418.65 775.25,416.28 775.5,420.66 775.75,416.37 776,410.5 776.25,422.4 776.5,416.05 776.75,414.51 777,413.07 777.25,419.97 777.5,415.37 777.75,421.61 778,417.72 778.25,423.63 778.5,417.26 778.75,416.13 779,410.42 779.25,414.25 779.5,422.22 779.75,430.82 780,413.68 780.25,414.64 780.5,420.68 780.75,421.32 781,416.31 781.25,419.64 781.5,412.31 781.75,418.06 782,423.33 782.25,426.57 782.5,418.73 782.75,418.36 783,421.5 783.25,424.39 783.5,421.71 783.75,416.34 784,421.21 784.25,423.83 784.5,416.44 784.75,413.67 785,421.69 785.25,421.02 785.5,423.6 785.75,419.72 786,416.47 786.25,417.33 786.5,414.7 786.75,415.01 787,416.65 787.25,416.95 787.5,423.88 787.75,413.61 788,418.71 788.25,416.3 788.5,425.33 788.75,419.93 789,417.11 789.25,422.26 789.5,418.94 789.75,416.53 790,425.27 790.25,421.69 790.5,426.15 790.75,423.67 791,422.02 791.25,419.23 791.5,413.94 791.75,421.79 792,419.03 792.25,421.68 792.5,418.71 792.75,415.76 793,414.39 793.25,421.86 793.5,424.46 793.75,417.58 794,420.84 794.25,424.92 794.5,415.25 794.75,417.43 795,414.05 795.25,424.09 795.5,420.11 795.75,416.97 796,411.78 796.25,418.25 796.5,423.42 796.75,417.82 797,417.3 797.25,421.97 797.5,413.84 797.75,419.48 798,421.89 798.25,415.93 798.5,415.75 798.75,420.47 799,419 799.25,418.44 799.5,420.4 799.75,420.5 800,415.54 800.25,416.7 800.5,421.58 800.75,424.54 801,425.59 801.25,416.05 801.5,424.52 801.75,423.09 802,419.69 802.25,421.91 802.5,423.35 802.75,427.46 803,415.1 803.25,422.24 803.5,418.99 803.75,418.65 804,424.45 804.25,422.98 804.5,415.03 804.75,418.13 805,420.25 805.25,413.17 805.5,422.81 805.75,418.71 806,419.6 806.25,420.17 806.5,426.04 806.75,418.45 807,416.5 807.25,423.89 807.5,414.5 807.75,412.64 808,407.14 808.25,412.38 808.5,415.44 808.75,418.03 809,417.86 809.25,417.16 809.5,414.79 809.75,414.93 810,420.02 810.25,418.78 810.5,425.1 810.75,415.03 811,416.1 811.25,413.74 811.5,423.63 811.75,412.48 812,420.47 812.25,422.67 812.5,415.49 812.75,417.75 813,405.1 813.25,408.24 813.5,397.9 813.75,383.25 814,397.04 814.25,404.9 814.5,415.31 814.75,415.65 815,413.58 815.25,414.44 815.5,411.02 815.75,416.74 816,426.73 816.25,415 816.5,419.96 816.75,415.95 817,421.82 817.25,420.35 817.5,417.52 817.75,410.91 818,416.4 818.25,423.81 818.5,417.62 818.75,421.41 819,416.64 819.25,410.67 819.5,420.58 819.75,420.13 820,416.26 820.25,417.2 820.5,420.1 820.75,416.32 821,420.42 821.25,418.08 821.5,408.8 821.75,418.41 822,416.49 822.25,415.49 822.5,420.89 822.75,417.06 823,421.55 823.25,423.98 823.5,419.9 823.75,412.61 824,416.18 824.25,423.33 824.5,418.29 824.75,415.95 825,419.08 825.25,421.68 825.5,420.66 825.75,422.36 826,416.02 826.25,418.39 826.5,418.48 826.75,419.46 827,410.47 827.25,418.5 827.5,413.7 827.75,425.51 828,426.21 828.25,426.73 828.5,422.94 828.75,417.32 829,423.54 829.25,418.51 829.5,421.99 829.75,415.43 830,416.77 830.25,421.28 830.5,426.87 830.75,419.09 831,428.85 831.25,430.55 831.5,413.56 831.75,418.87 832,414.85 832.25,418.25 832.5,416.48 832.75,418.34 833,422.49 833.25,422.1 833.5,418.9 833.75,417.3 834,416.88 834.25,415.42 834.5,414.08 834.75,406.22 835,389.32 835.25,403.05 835.5,414.83 835.75,421.44 836,417.22 836.25,411.71 836.5,423.49 836.75,416.97 837,407.6 837.25,417.89 837.5,421.52 837.75,420.7 838,424.45 838.25,421.86 838.5,419.78 838.75,410.83 839,414.53 839.25,420.07 839.5,422.2 839.75,414.91 840,416.67 840.25,421.26 840.5,411.11 840.75,410.93 841,418.16 841.25,420.11 841.5,416.95 841.75,409.31 842,418.68 842.25,412.97 842.5,420.22 842.75,416.44 843,415.78 843.25,411.84 843.5,408.45 843.75,416.77 844,420.83 844.25,419.09 844.5,423.48 844.75,416.08 845,422.69 845.25,420.24 845.5,415.12 845.75,419.07 846,417.26 846.25,417.25 846.5,420.06 846.75,424.32 847,418.48 847.25,420.44 847.5,413.65 847.75,420.49 848,425.06 848.25,423.63 848.5,422.24 848.75,417.96 849,416.07 849.25,419.92 849.5,414.59 849.75,415.08 850,424.53 850.25,416.42 850.5,428.09 850.75,414.07 851,422.04 851.25,415.04 851.5,420.78 851.75,415.45 852,420.03 852.25,419.09 852.5,417.72 852.75,421.78 853,425.97 853.25,416.79 853.5,423.01 853.75,419.42 854,418.76 854.25,428.1 854.5,409.18 854.75,415.3 855,410.17 855.25,416.14 855.5,415.98 855.75,427.33 856,416.73 856.25,421.24 856.5,417.02 856.75,406.84 857,404.21 857.25,395.31 857.5,360.78 857.75,369.72 858,395.18 858.25,398.54 858.5,405.98 858.75,413.39 859,416.08 859.25,411.23 859.5,414.48 859.75,415.87 860,416.15 860.25,420.04 860.5,417.75 860.75,418.17 861,411.51 861.25,413.15 861.5,419.12 861.75,410.92 862,418.97 862.25,415.07 862.5,414.51 862.75,420.89 863,415.26 863.25,414.55 863.5,415.41 863.75,418.62 864,429.81 864.25,409.37 864.5,418.41 864.75,417.49 865,422.59 865.25,416.95 865.5,408.06 865.75,423.97 866,413.78 866.25,417.84 866.5,412.3 866.75,412.95 867,414.21 867.25,416.01 867.5,408.56 867.75,408.21 868,415.85 868.25,415.11 868.5,417.95 868.75,418.76 869,421.06 869.25,416.21 869.5,418.39 869.75,419.99 870,419.54 870.25,415.81 870.5,426.66 870.75,417.33 871,422.61 871.25,420.25 871.5,424.67 871.75,409.96 872,428.31 872.25,418.51 872.5,414.1 872.75,420.01 873,429.26 873.25,421.66 873.5,414.11 873.75,417.46 874,425.28 874.25,413.37 874.5,418.7 874.75,418.22 875,428.94 875.25,418.24 875.5,425.24 875.75,416.57 876,416.03 876.25,423.91 876.5,422.25 876.75,412.02 877,422.34 877.25,422.36 877.5,416.89 877.75,420.53 878,420.74 878.25,417.46 878.5,417.03 878.75,416.66 879,418.4 879.25,413.8 879.5,419.41 879.75,413.09 880,419.93 880.25,419.19 880.5,415 880.75,423.19 881,427.87 881.25,425.16 881.5,413.39 881.75,424.85 882,420.21 882.25,418.98 882.5,416.57 882.75,419.09 883,425.13 883.25,421.41 883.5,417.19 883.75,416.03 884,417.09 884.25,421.41 884.5,426.94 884.75,414.17 885,418.72 885.25,417 885.5,415.36 885.75,420.32 886,420.94 886.25,412.44 886.5,414.17 886.75,423.93 887,420.18 887.25,421.13 887.5,416.74 887.75,417.33 888,421.04 888.25,416.95 888.5,414.35 888.75,419.23 889,423.21 889.25,414.88 889.5,423.99 889.75,422.5 890,415.78 890.25,419.6 890.5,419.44 890.75,422.42 891,422.61 891.25,414.15 891.5,414 891.75,424.3 892,420.39 892.25,421.63 892.5,421.21 892.75,426.27 893,414.45 893.25,424.18 893.5,415.93 893.75,422.39 894,424.83 894.25,413.15 894.5,420.44 894.75,417.32 895,416.9 895.25,417.75 895.5,412.68 895.75,412.02 896,416.08 896.25,412.81 896.5,401.33 896.75,391.31 897,411.64 897.25,413.79 897.5,412.81 897.75,407.64 898,404.7 898.25,398.91 898.5,406.73 898.75,418.58 899,415.88 899.25,418.08 899.5,413.21 899.75,414.11 900,414.9 900.25,419.54 900.5,417.47 900.75,417.5 901,420.17 901.25,419.88 901.5,425.3 901.75,418.22 902,414.78 902.25,419.1 902.5,425.45 902.75,416.84 903,419.45 903.25,417.73 903.5,421.02 903.75,420.4 904,415.83 904.25,418.31 904.5,423.31 904.75,423.95 905,423.18 905.25,422.89 905.5,417.72 905.75,417.55 906,423.09 906.25,414.01 906.5,418.77 906.75,411 907,417.32 907.25,415.88 907.5,413.7 907.75,421.34 908,415.65 908.25,417.19 908.5,417.63 908.75,415.53 909,424.78 909.25,416.5 909.5,419.43 909.75,412.93 910,416.47 910.25,417.16 910.5,417.28 910.75,416.14 911,419.31 911.25,425.44 911.5,418.21 911.75,418.23 912,417.19 912.25,429.81 912.5,425.88 912.75,421.38 913,422.05 913.25,416.02 913.5,418.44 913.75,420.04 914,419.67 914.25,415.52 914.5,415.87 914.75,421.43 915,420.57 915.25,410.25 915.5,419.63 915.75,424.63 916,416.45 916.25,420.09 916.5,412.79 916.75,422.26 917,413.86 917.25,413.02 917.5,416.5 917.75,426.82 918,413.89 918.25,410.07 918.5,414.14 918.75,408.61 919,401.04 919.25,382.66 919.5,398.61 919.75,409 920,414.92 920.25,416.8 920.5,420.87 920.75,411.17 921,414.33 921.25,417.5 921.5,421.78 921.75,420.43 922,416.78 922.25,414.37 922.5,422.48 922.75,422.84 923,430.26 923.25,418.17 923.5,425.77 923.75,413.85 924,416.61 924.25,416 924.5,416.78 924.75,414.92 925,416.03 925.25,417.59 925.5,415.35 925.75,418.41 926,413.52 926.25,409.45 926.5,400.43 926.75,402.31 927,411.17 927.25,414.45 927.5,416.71 927.75,419.86 928,415.09 928.25,423.39 928.5,425.46 928.75,423.94 929,417.21 929.25,412.66 929.5,417.53 929.75,420.03 930,422.86 930.25,418.58 930.5,418.04 930.75,425.66 931,416.38 931.25,423.57 931.5,422.77 931.75,413.31 932,419.8 932.25,416.11 932.5,414.2 932.75,410.19 933,410.68 933.25,416.57 933.5,411.07 933.75,405.93 934,401.61 934.25,410.38 934.5,413.65 934.75,410.43 935,410.61 935.25,419.44 935.5,418.62 935.75,414.39 936,417.99 936.25,421.3 936.5,426.31 936.75,414.91 937,421.31 937.25,427.72 937.5,419.03 937.75,425.01 938,407.75 938.25,424.95 938.5,418.73 938.75,410.75 939,422.1 939.25,423.25 939.5,423.92 939.75,423.87 940,418.6 940.25,415.56 940.5,416.83 940.75,418.7 941,420.62 941.25,416.86 941.5,419.17 941.75,422.76 942,420.43 942.25,428.92 942.5,428.37 942.75,414.21 943,416.74 943.25,413.58 943.5,414.24 943.75,421.63 944,415.05 944.25,414.85 944.5,418.22 944.75,422.86 945,417.92 945.25,417.95 945.5,423.47 945.75,421.58 946,421.55 946.25,423.64 946.5,415.18 946.75,420.44 947,416.75 947.25,423.88 947.5,422.94 947.75,414.91 948,425.14 948.25,414.32 948.5,424.36 948.75,420.18 949,415.52 949.25,414.43 949.5,417.9 949.75,419.08 950,416.1 950.25,421.55 950.5,413.07 950.75,419.04 951,419.04 951.25,410.96 951.5,420.31 951.75,413.51 952,408.18 952.25,416.3 952.5,417.97 952.75,422.86 953,416.91 953.25,425.33 953.5,425.18 953.75,423.71 954,424.69 954.25,420.53 954.5,416.65 954.75,421.76 955,423.07 955.25,419.93 955.5,417.81 955.75,412.2 956,421.32 956.25,419.68 956.5,412.68 956.75,417.43 957,418.19 957.25,412.57 957.5,406.85 957.75,409.25 958,409.24 958.25,415.03 958.5,419.15 958.75,421.6 959,424.08 959.25,410.71 959.5,418.49 959.75,421.86 960,424.08 960.25,426.09 960.5,415.01 960.75,417.39 961,414.48 961.25,422.42 961.5,413.27 961.75,423.93 962,422.83 962.25,420.88 962.5,409.51 962.75,415.82 963,421.81 963.25,412.57 963.5,417.47 963.75,417.96 964,422 964.25,419.38 964.5,419.22 964.75,416.16 965,417.69 965.25,416.74 965.5,419 965.75,414.48 966,412.62 966.25,409.3 966.5,418.75 966.75,415.71 967,421.04 967.25,417.3 967.5,420.33 967.75,422.7 968,414.08 968.25,415.97 968.5,413.93 968.75,413.73 969,404.13 969.25,404.27 969.5,393.19 969.75,364.05 970,385.41 970.25,396.71 970.5,413.55 970.75,413.89 971,421.79 971.25,412.07 971.5,411.7 971.75,418.31 972,410.56 972.25,418.85 972.5,415.16 972.75,416.91 973,419.57 973.25,418.8 973.5,426.67 973.75,421.49 974,413.3 974.25,423.11 974.5,413.19 974.75,419.36 975,413.65 975.25,415.48 975.5,424.73 975.75,416.68 976,416.32 976.25,416.7 976.5,417.79 976.75,425.38 977,414.08 977.25,413.85 977.5,421.7 977.75,412.32 978,417.64 978.25,424.11 978.5,419.23 978.75,417.16 979,416.17 979.25,415.28 979.5,416.69 979.75,419.83 980,424.6 980.25,423.4 980.5,416.79 980.75,416.07 981,422.21 981.25,411.38 981.5,417.3 981.75,417.77 982,414.37 982.25,414.83 982.5,420.53 982.75,411.91 983,415.01 983.25,416.06 983.5,419.04 983.75,412.78 984,422.9 984.25,416.83 984.5,416.67 984.75,415.73 985,413.72 985.25,411.27 985.5,415.23 985.75,405.05 986,401.99 986.25,413.62 986.5,411.76 986.75,418.3 987,416.95 987.25,413.82 987.5,420.9 987.75,411.79 988,420.9 988.25,414.55 988.5,420.08 988.75,424.26 989,420.85 989.25,415.88 989.5,418.32 989.75,416.87 990,413.41 990.25,413.66 990.5,418.54 990.75,420.6 991,410.7 991.25,417.85 991.5,420.23 991.75,418.42 992,413.55 992.25,422.02 992.5,412.26 992.75,419.85 993,423.45 993.25,407.72 993.5,416.57 993.75,415.76 994,413.84 994.25,407.56 994.5,405.2 994.75,393.9 995,380.43 995.25,356.07 995.5,387.73 995.75,399.14 996,406.64 996.25,411.74 996.5,414.05 996.75,414.7 997,416.3 997.25,411.18 997.5,406.33 997.75,420.08 998,423.78 998.25,411.96 998.5,415.32 998.75,419.58 999,422.49 999.25,421.3 999.5,424.09 999.75,418.47"/>
<path fill="none" stroke="#1a1a1a" stroke-width="1.6" stroke-linejoin="round" d="M414.1,413.79 L414.4,412.96 L414.6,411.89 L414.75,410.46 L414.9,407.84 L415,404.7 L415.1,407.84 L415.25,410.46 L415.4,411.89 L415.6,412.96 L415.9,413.79M421.9,413.21 L422.2,411.99 L422.4,410.41 L422.55,408.3 L422.7,404.43 L422.8,399.8 L422.9,404.43 L423.05,408.3 L423.2,410.41 L423.4,411.99 L423.7,413.21M446.8,414.21 L447.1,413.67 L447.3,412.98 L447.45,412.05 L447.6,410.34 L447.7,408.3 L447.8,410.34 L447.95,412.05 L448.1,412.98 L448.3,413.67 L448.6,414.21M450,411.16 L450.3,408.55 L450.5,405.15 L450.65,400.64 L450.8,392.32 L450.9,382.4 L451,392.32 L451.15,400.64 L451.3,405.15 L451.5,408.55 L451.8,411.16M452.8,410.84 L453.1,408.01 L453.3,404.34 L453.45,399.45 L453.6,390.44 L453.7,379.7 L453.8,390.44 L453.95,399.45 L454.1,404.34 L454.3,408.01 L454.6,410.84M455.3,413.21 L455.6,411.99 L455.8,410.41 L455.95,408.3 L456.1,404.43 L456.2,399.8 L456.3,404.43 L456.45,408.3 L456.6,410.41 L456.8,411.99 L457.1,413.21M461,412.87 L461.3,411.42 L461.5,409.53 L461.65,407.02 L461.8,402.41 L461.9,396.9 L462,402.41 L462.15,407.02 L462.3,409.53 L462.5,411.42 L462.8,412.87M463.7,402.22 L464,393.53 L464.2,382.23 L464.35,367.19 L464.5,339.52 L464.6,306.5 L464.7,339.52 L464.85,367.19 L465,382.23 L465.2,393.53 L465.5,402.22M467,408.65 L467.3,404.33 L467.5,398.72 L467.65,391.25 L467.8,377.51 L467.9,361.1 L468,377.51 L468.15,391.25 L468.3,398.72 L468.5,404.33 L468.8,408.65M501.6,411.97 L501.9,409.91 L502.1,407.24 L502.25,403.68 L502.4,397.12 L502.5,389.3 L502.6,397.12 L502.75,403.68 L502.9,407.24 L503.1,409.91 L503.4,411.97M503.7,413.12 L504,411.83 L504.2,410.17 L504.35,407.95 L504.5,403.87 L504.6,399 L504.7,403.87 L504.85,407.95 L505,410.17 L505.2,411.83 L505.5,413.12M508.7,412.4 L509,410.63 L509.2,408.33 L509.35,405.26 L509.5,399.63 L509.6,392.9 L509.7,399.63 L509.85,405.26 L510,408.33 L510.2,410.63 L510.5,412.4M514.5,414.16 L514.8,413.59 L515,412.86 L515.15,411.87 L515.3,410.06 L515.4,407.9 L515.5,410.06 L515.65,411.87 L515.8,412.86 L516,413.59 L516.3,414.16M520.1,411.97 L520.4,409.91 L520.6,407.24 L520.75,403.68 L520.9,397.12 L521,389.3 L521.1,397.12 L521.25,403.68 L521.4,407.24 L521.6,409.91 L521.9,411.97M522.1,413.7 L522.4,412.82 L522.6,411.68 L522.75,410.15 L522.9,407.35 L523,404 L523.1,407.35 L523.25,410.15 L523.4,411.68 L523.6,412.82 L523.9,413.7M535,409.76 L535.3,406.19 L535.5,401.56 L535.65,395.39 L535.8,384.04 L535.9,370.5 L536,384.04 L536.15,395.39 L536.3,401.56 L536.5,406.19 L536.8,409.76M543.9,413.82 L544.2,413.02 L544.4,411.98 L544.55,410.59 L544.7,408.04 L544.8,405 L544.9,408.04 L545.05,410.59 L545.2,411.98 L545.4,413.02 L545.7,413.82M561,412.23 L561.3,410.35 L561.5,407.9 L561.65,404.65 L561.8,398.65 L561.9,391.5 L562,398.65 L562.15,404.65 L562.3,407.9 L562.5,410.35 L562.8,412.23M576.6,414.29 L576.9,413.81 L577.1,413.19 L577.25,412.36 L577.4,410.83 L577.5,409 L577.6,410.83 L577.75,412.36 L577.9,413.19 L578.1,413.81 L578.4,414.29M587.1,412.69 L587.4,411.12 L587.6,409.08 L587.75,406.36 L587.9,401.37 L588,395.4 L588.1,401.37 L588.25,406.36 L588.4,409.08 L588.6,411.12 L588.9,412.69M590.1,412.69 L590.4,411.12 L590.6,409.08 L590.75,406.36 L590.9,401.37 L591,395.4 L591.1,401.37 L591.25,406.36 L591.4,409.08 L591.6,411.12 L591.9,412.69M604.9,407.27 L605.2,402.02 L605.4,395.19 L605.55,386.1 L605.7,369.37 L605.8,349.4 L605.9,369.37 L606.05,386.1 L606.2,395.19 L606.4,402.02 L606.7,407.27M635.8,412.24 L636.1,410.37 L636.3,407.93 L636.45,404.69 L636.6,398.72 L636.7,391.6 L636.8,398.72 L636.95,404.69 L637.1,407.93 L637.3,410.37 L637.6,412.24M637.5,413.62 L637.8,412.68 L638,411.47 L638.15,409.84 L638.3,406.86 L638.4,403.3 L638.5,406.86 L638.65,409.84 L638.8,411.47 L639,412.68 L639.3,413.62M644.3,414.16 L644.6,413.59 L644.8,412.86 L644.95,411.87 L645.1,410.06 L645.2,407.9 L645.3,410.06 L645.45,411.87 L645.6,412.86 L645.8,413.59 L646.1,414.16M658.1,408.19 L658.4,403.56 L658.6,397.54 L658.75,389.53 L658.9,374.79 L659,357.2 L659.1,374.79 L659.25,389.53 L659.4,397.54 L659.6,403.56 L659.9,408.19M670.5,413.79 L670.8,412.96 L671,411.89 L671.15,410.46 L671.3,407.84 L671.4,404.7 L671.5,407.84 L671.65,410.46 L671.8,411.89 L672,412.96 L672.3,413.79M677.1,414.26 L677.4,413.75 L677.6,413.1 L677.75,412.22 L677.9,410.62 L678,408.7 L678.1,410.62 L678.25,412.22 L678.4,413.1 L678.6,413.75 L678.9,414.26M682.7,411.02 L683,408.31 L683.2,404.79 L683.35,400.11 L683.5,391.49 L683.6,381.2 L683.7,391.49 L683.85,400.11 L684,404.79 L684.2,408.31 L684.5,411.02M707,404.23 L707.3,396.91 L707.5,387.4 L707.65,374.73 L707.8,351.42 L707.9,323.6 L708,351.42 L708.15,374.73 L708.3,387.4 L708.5,396.91 L708.8,404.23M712.9,412.41 L713.2,410.65 L713.4,408.36 L713.55,405.31 L713.7,399.7 L713.8,393 L713.9,399.7 L714.05,405.31 L714.2,408.36 L714.4,410.65 L714.7,412.41M721.4,412.6 L721.7,410.96 L721.9,408.84 L722.05,406.01 L722.2,400.81 L722.3,394.6 L722.4,400.81 L722.55,406.01 L722.7,408.84 L722.9,410.96 L723.2,412.6M728.5,413.49 L728.8,412.47 L729,411.13 L729.15,409.36 L729.3,406.1 L729.4,402.2 L729.5,406.1 L729.65,409.36 L729.8,411.13 L730,412.47 L730.3,413.49M733,411.77 L733.3,409.58 L733.5,406.72 L733.65,402.93 L733.8,395.94 L733.9,387.6 L734,395.94 L734.15,402.93 L734.3,406.72 L734.5,409.58 L734.8,411.77M765.6,412.41 L765.9,410.65 L766.1,408.36 L766.25,405.31 L766.4,399.7 L766.5,393 L766.6,399.7 L766.75,405.31 L766.9,408.36 L767.1,410.65 L767.4,412.41M767.8,414.16 L768.1,413.59 L768.3,412.86 L768.45,411.87 L768.6,410.06 L768.7,407.9 L768.8,410.06 L768.95,411.87 L769.1,412.86 L769.3,413.59 L769.6,414.16M807.2,413.79 L807.5,412.96 L807.7,411.89 L807.85,410.46 L808,407.84 L808.1,404.7 L808.2,407.84 L808.35,410.46 L808.5,411.89 L808.7,412.96 L809,413.79M812.9,410.37 L813.2,407.22 L813.4,403.13 L813.55,397.68 L813.7,387.66 L813.8,375.7 L813.9,387.66 L814.05,397.68 L814.2,403.13 L814.4,407.22 L814.7,410.37M834.1,411.97 L834.4,409.91 L834.6,407.24 L834.75,403.68 L834.9,397.12 L835,389.3 L835.1,397.12 L835.25,403.68 L835.4,407.24 L835.6,409.91 L835.9,411.97M842.5,413.79 L842.8,412.96 L843,411.89 L843.15,410.46 L843.3,407.84 L843.4,404.7 L843.5,407.84 L843.65,410.46 L843.8,411.89 L844,412.96 L844.3,413.79M856.7,405.55 L857,399.13 L857.2,390.78 L857.35,379.66 L857.5,359.21 L857.6,334.8 L857.7,359.21 L857.85,379.66 L858,390.78 L858.2,399.13 L858.5,405.55M866.7,413.49 L867,412.47 L867.2,411.13 L867.35,409.36 L867.5,406.1 L867.6,402.2 L867.7,406.1 L867.85,409.36 L868,411.13 L868.2,412.47 L868.5,413.49M895.8,411.64 L896.1,409.36 L896.3,406.39 L896.45,402.44 L896.6,395.17 L896.7,386.5 L896.8,395.17 L896.95,402.44 L897.1,406.39 L897.3,409.36 L897.6,411.64M897.3,412.62 L897.6,411 L897.8,408.9 L897.95,406.1 L898.1,400.95 L898.2,394.8 L898.3,400.95 L898.45,406.1 L898.6,408.9 L898.8,411 L899.1,412.62M918.3,410.42 L918.6,407.3 L918.8,403.25 L918.95,397.86 L919.1,387.94 L919.2,376.1 L919.3,387.94 L919.45,397.86 L919.6,403.25 L919.8,407.3 L920.1,410.42M925.7,411.95 L926,409.87 L926.2,407.18 L926.35,403.59 L926.5,396.98 L926.6,389.1 L926.7,396.98 L926.85,403.59 L927,407.18 L927.2,409.87 L927.5,411.95M933,412.75 L933.3,411.22 L933.5,409.23 L933.65,406.58 L933.8,401.71 L933.9,395.9 L934,401.71 L934.15,406.58 L934.3,409.23 L934.5,411.22 L934.8,412.75M956.7,413.21 L957,411.99 L957.2,410.41 L957.35,408.3 L957.5,404.43 L957.6,399.8 L957.7,404.43 L957.85,408.3 L958,410.41 L958.2,411.99 L958.5,413.21M965.2,414.26 L965.5,413.75 L965.7,413.1 L965.85,412.22 L966,410.62 L966.1,408.7 L966.2,410.62 L966.35,412.22 L966.5,413.1 L966.7,413.75 L967,414.26M968.9,407.73 L969.2,402.79 L969.4,396.37 L969.55,387.81 L969.7,372.08 L969.8,353.3 L969.9,372.08 L970.05,387.81 L970.2,396.37 L970.4,402.79 L970.7,407.73M985,412.62 L985.3,411 L985.5,408.9 L985.65,406.1 L985.8,400.95 L985.9,394.8 L986,400.95 L986.15,406.1 L986.3,408.9 L986.5,411 L986.8,412.62M994.3,406.47 L994.6,400.67 L994.8,393.13 L994.95,383.1 L995.1,364.64 L995.2,342.6 L995.3,364.64 L995.45,383.1 L995.6,393.13 L995.8,400.67 L996.1,406.47"/>
<path fill="#fff" fill-opacity="0.42" d="M451.5,415.5h0.8v11h-0.8ZM454.3,415.5h0.8v11h-0.8ZM465.2,415.5h0.8v11h-0.8ZM468.5,415.5h0.8v11h-0.8ZM503.1,415.5h0.8v11h-0.8ZM521.6,415.5h0.8v11h-0.8ZM536.5,415.5h0.8v11h-0.8ZM606.4,415.5h0.8v11h-0.8ZM659.6,415.5h0.8v11h-0.8ZM684.2,415.5h0.8v11h-0.8ZM708.5,415.5h0.8v11h-0.8ZM734.5,415.5h0.8v11h-0.8ZM814.4,415.5h0.8v11h-0.8ZM835.6,415.5h0.8v11h-0.8ZM858.2,415.5h0.8v11h-0.8ZM897.3,415.5h0.8v11h-0.8ZM919.8,415.5h0.8v11h-0.8ZM927.2,415.5h0.8v11h-0.8ZM970.4,415.5h0.8v11h-0.8ZM995.8,415.5h0.8v11h-0.8Z"/>
<path d="M410.0,434.0H1000.3V251.2H410.0ZM404.0,417.1H410.0M404.0,383.9H410.0M404.0,350.7H410.0M404.0,317.5H410.0M404.0,284.3H410.0M404.0,251.1H410.0M406.5,400.5H410.0M406.5,367.3H410.0M406.5,334.1H410.0M406.5,300.9H410.0M406.5,267.7H410.0M406.5,434.0H410.0M410,434.0V440.0M469.03,434.0V440.0M528.06,434.0V440.0M587.09,434.0V440.0M646.12,434.0V440.0M705.15,434.0V440.0M764.18,434.0V440.0M823.21,434.0V440.0M882.24,434.0V440.0M941.27,434.0V440.0M1000.3,434.0V440.0M439.51,434.0V437.0M498.55,434.0V437.0M557.58,434.0V437.0M616.61,434.0V437.0M675.63,434.0V437.0M734.66,434.0V437.0M793.69,434.0V437.0M852.73,434.0V437.0M911.75,434.0V437.0M970.78,434.0V437.0" fill="none" stroke="#2a2a2a" stroke-width="1.4"/>
<text transform="translate(397.5,423.2) scale(1,1.03)" font-size="19.5" text-anchor="end" >0</text>
<text transform="translate(397.5,390) scale(1,1.03)" font-size="19.5" text-anchor="end" >1</text>
<text transform="translate(397.5,356.8) scale(1,1.03)" font-size="19.5" text-anchor="end" >2</text>
<text transform="translate(397.5,323.6) scale(1,1.03)" font-size="19.5" text-anchor="end" >3</text>
<text transform="translate(397.5,290.4) scale(1,1.03)" font-size="19.5" text-anchor="end" >4</text>
<text transform="translate(397.5,257.2) scale(1,1.03)" font-size="19.5" text-anchor="end" >5</text>
<text transform="translate(410,459.5) scale(1,1.03)" font-size="19.5" text-anchor="middle" >0</text>
<text transform="translate(469.03,459.5) scale(1,1.03)" font-size="19.5" text-anchor="middle" >10</text>
<text transform="translate(528.06,459.5) scale(1,1.03)" font-size="19.5" text-anchor="middle" >20</text>
<text transform="translate(587.09,459.5) scale(1,1.03)" font-size="19.5" text-anchor="middle" >30</text>
<text transform="translate(646.12,459.5) scale(1,1.03)" font-size="19.5" text-anchor="middle" >40</text>
<text transform="translate(705.15,459.5) scale(1,1.03)" font-size="19.5" text-anchor="middle" >50</text>
<text transform="translate(764.18,459.5) scale(1,1.03)" font-size="19.5" text-anchor="middle" >60</text>
<text transform="translate(823.21,459.5) scale(1,1.03)" font-size="19.5" text-anchor="middle" >70</text>
<text transform="translate(882.24,459.5) scale(1,1.03)" font-size="19.5" text-anchor="middle" >80</text>
<text transform="translate(941.27,459.5) scale(1,1.03)" font-size="19.5" text-anchor="middle" >90</text>
<text transform="translate(1000.3,459.5) scale(1,1.03)" font-size="19.5" text-anchor="middle" >100</text>
<text transform="translate(708.2,486.7) scale(1,1.03)" font-size="20.2" text-anchor="middle" >Time (ms)</text>
<text transform="translate(375.6,341.8) rotate(-90)" font-size="20.6" text-anchor="middle">Signal (V)</text>
<text transform="translate(416,276.2) scale(1,1.03)" font-size="22.4" text-anchor="start" >C</text>
<text transform="translate(993.4,277.3) scale(1,1.04)" font-size="22.5" text-anchor="end" >SSAW OFF</text>
</svg></body></html>
